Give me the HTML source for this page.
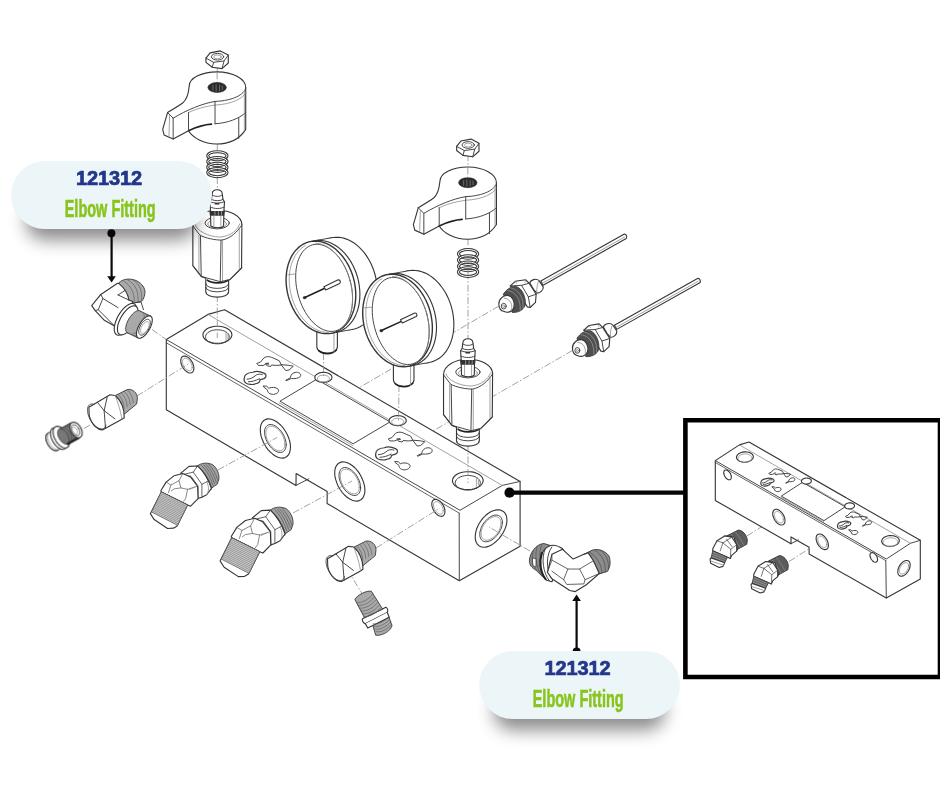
<!DOCTYPE html>
<html><head><meta charset="utf-8"><title>Elbow Fitting 121312</title><style>
html,body{margin:0;padding:0;background:#fff}
body{width:940px;height:788px;position:relative;overflow:hidden;font-family:"Liberation Sans",sans-serif}
svg{position:absolute;left:0;top:0}
svg *{vector-effect:non-scaling-stroke}
.l{fill:#fff;stroke:#363636;stroke-width:1.12;stroke-linejoin:round;stroke-linecap:round}
.n{fill:none;stroke:#3e3e3e;stroke-width:.95;stroke-linejoin:round;stroke-linecap:round}
.k{fill:none;stroke:#222;stroke-width:1.6;stroke-linejoin:round;stroke-linecap:round}
.t{fill:none;stroke:#8a8a8a;stroke-width:0.8;stroke-linecap:round}
.c{fill:none;stroke:#8a8a8a;stroke-width:0.8;stroke-dasharray:7 2 1.5 2}
.w{fill:#fff;stroke:none}
.d{fill:#2a2a2a;stroke:#2a2a2a;stroke-width:0.6}
.g{fill:#a9a9a9;stroke:#3a3a3a;stroke-width:0.9;stroke-linejoin:round}
.h{fill:none;stroke:#555;stroke-width:0.6}
.pill{position:absolute;width:201px;height:68px;border-radius:34px;background:#ecf6f8;box-shadow:0 26px 17px -15px rgba(0,0,0,.46)}
.num{position:absolute;left:-2px;width:100%;top:5.6px;text-align:center;font-weight:bold;font-size:20px;line-height:24px;color:#22378a;letter-spacing:-.1px;-webkit-text-stroke:.7px #22378a}
.nm{position:absolute;left:-1px;width:100%;top:34px;text-align:center;font-weight:bold;font-size:23px;line-height:28px;color:#88c41c;white-space:nowrap;-webkit-text-stroke:.6px #88c41c}
.nm span{display:inline-block;transform:scaleX(.63);transform-origin:50% 50%}
</style></head>
<body>
<svg width="940" height="788" viewBox="0 0 940 788">
<defs><filter id="soft" x="0" y="0" width="940" height="788" filterUnits="userSpaceOnUse"><feGaussianBlur stdDeviation="0.42"/></filter></defs>
<g filter="url(#soft)">
<rect x="685.4" y="420.2" width="254.6" height="256.8" fill="#fff" stroke="#060606" stroke-width="4.6"/>
<path class="c" d="M499,306 L356,389.5"/>
<path class="c" d="M572.4,350.5 L433,431"/>
<path class="c" d="M152,329.5 L166.3,339.5"/>
<path class="l" d="M166.3,339.5 L208.0,314.4 L224.6,309.8 L520.1,481.4 L520.1,546.3 L459.3,580.7 L327.1,503.5 L327.2,491.6 L296.1,473.5 L296.0,485.4 L166.3,409.7 Z" /><path class="n" d="M166.3,339.5 L460.0,510.3 L502.3,485.4 L520.1,481.4" /><path class="n" d="M459.2,513.1 L459.3,580.7" /><path class="n" d="M166.3,342.8 L459.2,513.1" style="stroke-width:.8"/><path class="t" d="M208.0,314.4 L502.3,485.4" /><path class="n" d="M296.0,485.4 L308.8,478.8" /><path class="n" d="M280.3,401.0 L316.6,379.3 L390.0,421.9 L353.5,443.6 Z" /><path class="t" d="M279.3,402.9 L352.6,445.5" /><path class="l" d="M227.7,340.8 L229.3,339.6 L230.6,338.3 L231.4,336.9 L231.9,335.4 L231.8,334.0 L231.4,332.5 L230.5,331.1 L229.2,329.8 L227.6,328.7 L225.7,327.7 L223.5,327.0 L221.1,326.5 L218.6,326.3 L216.1,326.3 L213.6,326.5 L211.2,327.1 L209.0,327.8 L207.1,328.8 L205.5,330.0 L204.2,331.3 L203.4,332.7 L203.0,334.2 L203.0,335.7 L203.4,337.1 L204.3,338.5 L205.6,339.8 L207.2,340.9 L209.1,341.9 L211.3,342.6 L213.7,343.1 L216.2,343.3 L218.7,343.3 L221.2,343.1 L223.6,342.5 L225.8,341.8 L227.7,340.8 Z" /><path class="n" d="M225.8,341.7 L227.2,340.8 L228.2,339.7 L228.9,338.5 L229.3,337.3 L229.2,336.1 L228.9,334.9 L228.2,333.8 L227.1,332.7 L225.8,331.8 L224.2,331.0 L222.4,330.4 L220.4,330.0 L218.4,329.8 L216.3,329.8 L214.3,330.0 L212.3,330.5 L210.5,331.1 L209.0,331.9 L207.6,332.8 L206.6,333.9 L205.9,335.1 L205.6,336.3 L205.6,337.5 L205.9,338.7 L206.6,339.8 L207.7,340.9 L209.0,341.8 L210.6,342.6 L212.4,343.2 L214.4,343.6 L216.4,343.8 L218.5,343.8 L220.5,343.6 L222.5,343.1 L224.3,342.5 L225.8,341.7 Z" /><path class="t" d="M226.0,332.8 L226.0,340.3 M228.0,333.8 L228.0,339.0" /><path class="l" d="M478.6,486.9 L480.3,485.7 L481.7,484.3 L482.6,482.8 L483.1,481.3 L483.1,479.7 L482.6,478.2 L481.7,476.7 L480.4,475.4 L478.7,474.2 L476.6,473.2 L474.3,472.4 L471.8,471.9 L469.2,471.7 L466.5,471.7 L463.9,472.0 L461.3,472.5 L459.0,473.3 L457.0,474.3 L455.3,475.5 L453.9,476.9 L453.0,478.4 L452.5,479.9 L452.5,481.5 L453.0,483.0 L453.9,484.5 L455.2,485.8 L456.9,487.0 L459.0,488.0 L461.3,488.8 L463.8,489.3 L466.4,489.5 L469.1,489.5 L471.7,489.2 L474.3,488.7 L476.6,487.9 L478.6,486.9 Z" /><path class="n" d="M476.7,488.0 L478.1,487.0 L479.2,485.9 L479.9,484.6 L480.3,483.4 L480.3,482.1 L479.9,480.8 L479.2,479.6 L478.1,478.5 L476.7,477.6 L475.0,476.7 L473.1,476.1 L471.1,475.7 L468.9,475.5 L466.7,475.5 L464.6,475.7 L462.5,476.2 L460.6,476.8 L458.9,477.6 L457.5,478.6 L456.4,479.7 L455.7,481.0 L455.3,482.2 L455.3,483.5 L455.7,484.8 L456.4,486.0 L457.5,487.1 L458.9,488.0 L460.6,488.9 L462.5,489.5 L464.5,489.9 L466.7,490.1 L468.9,490.1 L471.0,489.9 L473.1,489.4 L475.0,488.8 L476.7,488.0 Z" /><path class="t" d="M476.4,478.6 L476.4,486.1 M478.4,479.6 L478.4,484.8" /><path class="l" d="M329.5,380.9 L330.4,380.2 L331.2,379.5 L331.7,378.7 L331.9,377.8 L331.9,376.9 L331.7,376.0 L331.1,375.2 L330.4,374.5 L329.4,373.8 L328.3,373.2 L327.0,372.8 L325.6,372.5 L324.1,372.4 L322.6,372.4 L321.2,372.5 L319.8,372.9 L318.5,373.3 L317.3,373.9 L316.4,374.6 L315.6,375.3 L315.1,376.1 L314.9,377.0 L314.9,377.9 L315.1,378.8 L315.7,379.6 L316.4,380.3 L317.4,381.0 L318.5,381.6 L319.8,382.0 L321.2,382.3 L322.7,382.4 L324.2,382.4 L325.6,382.3 L327.0,381.9 L328.3,381.5 L329.5,380.9 Z" /><path class="t" d="M327.6,381.1 L328.3,380.6 L328.8,380.1 L329.2,379.5 L329.4,378.9 L329.4,378.3 L329.2,377.7 L328.8,377.1 L328.3,376.5 L327.6,376.1 L326.8,375.7 L325.9,375.4 L324.9,375.2 L323.9,375.1 L322.9,375.1 L321.8,375.2 L320.9,375.4 L320.0,375.7 L319.2,376.1 L318.5,376.6 L318.0,377.1 L317.6,377.7 L317.4,378.3 L317.4,378.9 L317.6,379.5 L318.0,380.1 L318.5,380.7 L319.2,381.1 L320.0,381.5 L320.9,381.8 L321.9,382.0 L322.9,382.1 L323.9,382.1 L325.0,382.0 L325.9,381.8 L326.8,381.5 L327.6,381.1 Z" /><path class="l" d="M403.8,424.1 L404.7,423.4 L405.5,422.7 L406.0,421.9 L406.2,421.0 L406.2,420.1 L406.0,419.3 L405.5,418.4 L404.7,417.7 L403.8,417.0 L402.6,416.5 L401.3,416.0 L399.9,415.7 L398.4,415.6 L396.9,415.6 L395.5,415.8 L394.1,416.1 L392.8,416.5 L391.6,417.1 L390.7,417.8 L389.9,418.5 L389.4,419.3 L389.2,420.2 L389.2,421.1 L389.4,421.9 L389.9,422.8 L390.7,423.5 L391.6,424.2 L392.8,424.7 L394.1,425.2 L395.5,425.5 L397.0,425.6 L398.5,425.6 L399.9,425.4 L401.3,425.1 L402.6,424.7 L403.8,424.1 Z" /><path class="t" d="M401.9,424.3 L402.6,423.8 L403.1,423.3 L403.5,422.7 L403.7,422.1 L403.7,421.5 L403.5,420.9 L403.1,420.3 L402.6,419.8 L401.9,419.3 L401.1,418.9 L400.2,418.6 L399.2,418.4 L398.2,418.3 L397.2,418.3 L396.1,418.4 L395.2,418.6 L394.3,418.9 L393.5,419.3 L392.8,419.8 L392.3,420.3 L391.9,420.9 L391.7,421.5 L391.7,422.1 L391.9,422.7 L392.3,423.3 L392.8,423.8 L393.5,424.3 L394.3,424.7 L395.2,425.0 L396.2,425.2 L397.2,425.3 L398.2,425.3 L399.3,425.2 L400.2,425.0 L401.1,424.7 L401.9,424.3 Z" /><path class="l" d="M290.5,447.3 L290.2,450.2 L289.5,452.8 L288.4,454.9 L286.9,456.5 L285.0,457.6 L282.9,458.1 L280.5,458.0 L277.9,457.3 L275.3,456.0 L272.7,454.2 L270.1,451.9 L267.8,449.3 L265.6,446.3 L263.8,443.0 L262.3,439.6 L261.1,436.2 L260.5,432.9 L260.3,429.7 L260.5,426.8 L261.2,424.2 L262.3,422.1 L263.8,420.5 L265.7,419.4 L267.9,418.9 L270.3,419.0 L272.8,419.7 L275.4,421.0 L278.1,422.8 L280.6,425.0 L283.0,427.7 L285.1,430.7 L287.0,434.0 L288.5,437.4 L289.6,440.8 L290.3,444.1 L290.5,447.3 Z" /><path class="n" d="M286.2,444.8 L286.0,446.9 L285.5,448.7 L284.7,450.2 L283.6,451.4 L282.3,452.1 L280.7,452.5 L279.0,452.4 L277.2,451.9 L275.3,451.0 L273.4,449.7 L271.6,448.1 L269.9,446.2 L268.4,444.0 L267.1,441.7 L266.0,439.3 L265.2,436.9 L264.7,434.5 L264.6,432.2 L264.7,430.1 L265.2,428.3 L266.0,426.8 L267.1,425.6 L268.5,424.9 L270.0,424.5 L271.7,424.6 L273.5,425.1 L275.4,426.0 L277.3,427.3 L279.1,428.9 L280.8,430.8 L282.3,432.9 L283.7,435.3 L284.7,437.7 L285.5,440.1 L286.0,442.5 L286.2,444.8 Z" /><path class="t" d="M284.9,444.0 L284.7,445.9 L284.3,447.5 L283.6,448.8 L282.6,449.8 L281.4,450.5 L280.1,450.8 L278.6,450.7 L277.0,450.3 L275.3,449.5 L273.7,448.4 L272.1,446.9 L270.6,445.3 L269.2,443.4 L268.1,441.3 L267.1,439.2 L266.4,437.1 L266.0,435.0 L265.9,433.0 L266.0,431.1 L266.5,429.5 L267.2,428.2 L268.1,427.2 L269.3,426.5 L270.7,426.2 L272.2,426.3 L273.8,426.7 L275.4,427.5 L277.1,428.6 L278.7,430.0 L280.2,431.7 L281.5,433.6 L282.7,435.7 L283.6,437.8 L284.3,439.9 L284.7,442.0 L284.9,444.0 Z" /><path class="l" d="M364.9,490.3 L364.7,493.2 L363.9,495.8 L362.8,497.9 L361.3,499.5 L359.4,500.6 L357.2,501.1 L354.9,501.0 L352.3,500.3 L349.7,499.0 L347.1,497.2 L344.5,495.0 L342.1,492.3 L340.0,489.3 L338.1,486.0 L336.7,482.6 L335.6,479.2 L334.9,475.9 L334.7,472.7 L334.9,469.8 L335.6,467.2 L336.8,465.1 L338.3,463.5 L340.2,462.4 L342.3,461.9 L344.7,462.0 L347.3,462.7 L349.9,464.0 L352.5,465.8 L355.1,468.0 L357.4,470.7 L359.6,473.7 L361.4,477.0 L362.9,480.4 L364.0,483.8 L364.7,487.1 L364.9,490.3 Z" /><path class="n" d="M360.6,487.8 L360.4,489.9 L359.9,491.7 L359.1,493.2 L358.0,494.4 L356.7,495.1 L355.1,495.5 L353.4,495.4 L351.6,494.9 L349.7,494.0 L347.8,492.7 L346.0,491.1 L344.3,489.2 L342.8,487.0 L341.5,484.7 L340.4,482.3 L339.6,479.9 L339.1,477.5 L339.0,475.2 L339.2,473.1 L339.7,471.3 L340.5,469.8 L341.6,468.6 L342.9,467.9 L344.5,467.5 L346.2,467.6 L348.0,468.1 L349.9,469.0 L351.7,470.3 L353.6,471.9 L355.3,473.8 L356.8,475.9 L358.1,478.3 L359.2,480.7 L360.0,483.1 L360.4,485.5 L360.6,487.8 Z" /><path class="t" d="M359.3,487.0 L359.1,488.9 L358.7,490.5 L358.0,491.8 L357.0,492.8 L355.8,493.5 L354.5,493.8 L353.0,493.7 L351.4,493.3 L349.7,492.5 L348.1,491.4 L346.5,490.0 L345.0,488.3 L343.6,486.4 L342.5,484.3 L341.5,482.2 L340.8,480.1 L340.4,478.0 L340.3,476.0 L340.4,474.1 L340.9,472.5 L341.6,471.2 L342.6,470.2 L343.7,469.5 L345.1,469.2 L346.6,469.3 L348.2,469.7 L349.9,470.5 L351.5,471.6 L353.1,473.0 L354.6,474.7 L355.9,476.6 L357.1,478.7 L358.1,480.8 L358.7,482.9 L359.2,485.0 L359.3,487.0 Z" /><path class="l" d="M193.9,368.3 L193.8,369.6 L193.5,370.7 L193.0,371.6 L192.3,372.3 L191.5,372.8 L190.6,373.0 L189.6,373.0 L188.5,372.7 L187.3,372.1 L186.2,371.3 L185.1,370.3 L184.0,369.2 L183.1,367.9 L182.3,366.5 L181.6,365.0 L181.1,363.5 L180.9,362.1 L180.8,360.7 L180.9,359.4 L181.2,358.3 L181.6,357.4 L182.3,356.7 L183.1,356.2 L184.0,356.0 L185.1,356.1 L186.2,356.4 L187.3,356.9 L188.5,357.7 L189.6,358.7 L190.6,359.8 L191.5,361.1 L192.4,362.5 L193.0,364.0 L193.5,365.5 L193.8,367.0 L193.9,368.3 Z" /><path class="t" d="M192.2,367.3 L192.1,368.3 L191.9,369.1 L191.5,369.7 L191.0,370.3 L190.4,370.6 L189.7,370.8 L189.0,370.7 L188.2,370.5 L187.3,370.1 L186.5,369.5 L185.7,368.8 L184.9,368.0 L184.2,367.0 L183.6,366.0 L183.1,364.9 L182.8,363.8 L182.6,362.7 L182.5,361.7 L182.6,360.8 L182.8,359.9 L183.1,359.3 L183.6,358.8 L184.2,358.4 L184.9,358.2 L185.7,358.3 L186.5,358.5 L187.3,358.9 L188.2,359.5 L189.0,360.2 L189.7,361.1 L190.4,362.0 L191.0,363.1 L191.5,364.1 L191.9,365.2 L192.1,366.3 L192.2,367.3 Z" /><path class="l" d="M444.9,511.7 L444.8,512.9 L444.5,514.0 L444.0,515.0 L443.4,515.7 L442.5,516.1 L441.6,516.4 L440.6,516.3 L439.5,516.0 L438.3,515.5 L437.2,514.7 L436.1,513.7 L435.0,512.5 L434.1,511.2 L433.3,509.8 L432.7,508.3 L432.2,506.9 L431.9,505.4 L431.8,504.0 L431.9,502.8 L432.2,501.6 L432.7,500.7 L433.4,500.0 L434.2,499.6 L435.2,499.3 L436.2,499.4 L437.3,499.7 L438.4,500.2 L439.6,501.0 L440.7,502.0 L441.7,503.2 L442.7,504.5 L443.5,505.9 L444.1,507.3 L444.6,508.8 L444.9,510.3 L444.9,511.7 Z" /><path class="t" d="M443.2,510.7 L443.1,511.6 L442.9,512.4 L442.5,513.1 L442.1,513.6 L441.4,514.0 L440.8,514.1 L440.0,514.1 L439.2,513.9 L438.3,513.5 L437.5,512.9 L436.7,512.2 L435.9,511.3 L435.2,510.3 L434.6,509.3 L434.2,508.2 L433.8,507.1 L433.6,506.0 L433.5,505.0 L433.6,504.1 L433.8,503.3 L434.2,502.6 L434.7,502.1 L435.3,501.7 L436.0,501.6 L436.8,501.6 L437.6,501.8 L438.4,502.2 L439.3,502.8 L440.1,503.5 L440.8,504.4 L441.5,505.4 L442.1,506.4 L442.6,507.5 L442.9,508.6 L443.2,509.6 L443.2,510.7 Z" /><path class="l" d="M506.9,520.1 L506.7,523.1 L506.0,526.2 L504.8,529.4 L503.2,532.6 L501.2,535.7 L499.0,538.6 L496.4,541.2 L493.8,543.4 L491.0,545.2 L488.2,546.4 L485.6,547.1 L483.1,547.2 L480.8,546.7 L478.9,545.7 L477.3,544.1 L476.1,542.0 L475.4,539.5 L475.2,536.7 L475.5,533.6 L476.2,530.3 L477.4,527.0 L479.0,523.8 L481.0,520.7 L483.2,517.8 L485.8,515.3 L488.4,513.2 L491.2,511.6 L493.9,510.5 L496.6,509.9 L499.1,509.8 L501.3,510.4 L503.3,511.4 L504.8,512.9 L506.0,514.9 L506.7,517.3 L506.9,520.1 Z" /><path class="n" d="M502.4,522.4 L502.2,524.6 L501.7,526.8 L500.9,529.2 L499.7,531.4 L498.3,533.7 L496.7,535.7 L494.9,537.6 L493.0,539.1 L491.0,540.4 L489.1,541.2 L487.1,541.7 L485.4,541.8 L483.7,541.4 L482.4,540.7 L481.2,539.6 L480.4,538.1 L479.9,536.3 L479.8,534.3 L479.9,532.1 L480.5,529.8 L481.3,527.4 L482.5,525.1 L483.9,522.9 L485.5,520.9 L487.3,519.1 L489.2,517.6 L491.1,516.4 L493.1,515.6 L495.0,515.1 L496.8,515.1 L498.4,515.5 L499.8,516.2 L500.9,517.3 L501.7,518.8 L502.3,520.5 L502.4,522.4 Z" /><path class="t" d="M501.1,523.2 L500.9,525.0 L500.4,527.0 L499.7,529.1 L498.7,531.1 L497.5,533.0 L496.0,534.8 L494.5,536.5 L492.8,537.8 L491.0,538.9 L489.3,539.7 L487.6,540.1 L486.0,540.2 L484.6,539.9 L483.4,539.2 L482.4,538.2 L481.7,536.9 L481.3,535.4 L481.1,533.6 L481.3,531.6 L481.7,529.6 L482.5,527.5 L483.5,525.5 L484.7,523.6 L486.2,521.8 L487.7,520.2 L489.4,518.9 L491.1,517.8 L492.9,517.1 L494.5,516.7 L496.1,516.7 L497.5,517.0 L498.7,517.7 L499.7,518.6 L500.5,519.9 L500.9,521.4 L501.1,523.2 Z" /><g transform="translate(235,345) scale(0.08511)" ><path class="n" d="M260,215 L300,200 L340,152 C360,135 400,132 430,145 L520,185 L545,235 L490,240 L430,235 L420,252 L380,246 L362,226 L330,240 L280,240 Z" /><path class="d" d="M350,212 L395,205 L405,228 L365,232 Z" style="fill:#555;stroke:none"/><path class="n" d="M545,235 L595,300 L635,294 L685,250 L640,240 Z" /><path class="n" d="M108,392 C110,350 150,325 210,320 C240,308 300,312 340,330 C372,345 375,375 340,395 L292,410 C295,440 260,452 240,455 C215,470 150,465 128,448 C105,430 104,410 108,392 Z" style="stroke-width:1.2"/><path class="n" d="M140,402 C180,400 215,385 250,352 C275,340 300,340 322,348 M158,432 C200,432 240,420 288,396" /><path class="n" d="M600,412 L650,386 C652,350 680,322 720,320 C760,320 782,345 768,370 C750,392 700,398 662,394 L604,418 Z" /><path class="n" d="M335,482 L372,484 L398,508 C430,492 480,495 505,518 C525,545 500,572 455,580 C410,582 380,560 382,528 L340,496 Z" /></g><g transform="translate(131.5,75.5)"><g transform="translate(235,345) scale(0.08511)" ><path class="n" d="M260,215 L300,200 L340,152 C360,135 400,132 430,145 L520,185 L545,235 L490,240 L430,235 L420,252 L380,246 L362,226 L330,240 L280,240 Z" /><path class="d" d="M350,212 L395,205 L405,228 L365,232 Z" style="fill:#555;stroke:none"/><path class="n" d="M545,235 L595,300 L635,294 L685,250 L640,240 Z" /><path class="n" d="M108,392 C110,350 150,325 210,320 C240,308 300,312 340,330 C372,345 375,375 340,395 L292,410 C295,440 260,452 240,455 C215,470 150,465 128,448 C105,430 104,410 108,392 Z" style="stroke-width:1.2"/><path class="n" d="M140,402 C180,400 215,385 250,352 C275,340 300,340 322,348 M158,432 C200,432 240,420 288,396" /><path class="n" d="M600,412 L650,386 C652,350 680,322 720,320 C760,320 782,345 768,370 C750,392 700,398 662,394 L604,418 Z" /><path class="n" d="M335,482 L372,484 L398,508 C430,492 480,495 505,518 C525,545 500,572 455,580 C410,582 380,560 382,528 L340,496 Z" /></g></g>
<path class="c" d="M217.3,295 L217.3,338"/>
<path class="c" d="M468,444 L468,483"/>
<path class="c" d="M323.5,353 L323.5,378"/>
<path class="c" d="M399,385 L398.5,421"/>
<path class="c" d="M84,428.5 L90,425"/>
<path class="c" d="M137,396 L189,363.5"/>
<path class="c" d="M218,470 L277,437.5"/>
<path class="c" d="M293,513 L352,481"/>
<path class="c" d="M376,548 L440,508"/>
<path class="c" d="M364,597 L349,572"/>
<path class="c" d="M530,551 L489,527"/>
<path class="c" d="M747,536 L780,515"/>
<path class="c" d="M789,561.5 L823,540"/>
<path class="l" d="M715.3,460.6 L739.4,444.9 L749.0,442.0 L920.3,540.3 L920.3,579.0 L886.3,598.0 L809.1,554.0 L809.1,547.3 L791.0,536.9 L791.0,543.7 L715.3,500.5 Z" /><path class="n" d="M715.3,460.6 L886.3,559.0 L910.4,543.3 L920.3,540.3" /><path class="n" d="M885.8,560.6 L886.3,598.0" /><path class="n" d="M715.3,462.5 L885.8,560.6" style="stroke-width:.8"/><path class="t" d="M739.4,444.9 L910.4,543.3" /><path class="n" d="M791.0,543.7 L798.4,539.9" /><path class="n" d="M781.6,495.9 L802.5,482.3 L845.2,506.8 L824.3,520.4 Z" /><path class="t" d="M781.1,497.1 L823.7,521.6" /><path class="l" d="M750.9,460.5 L751.8,459.7 L752.6,458.9 L753.0,458.1 L753.3,457.2 L753.3,456.3 L753.0,455.4 L752.5,454.6 L751.8,453.8 L750.8,453.2 L749.7,452.6 L748.4,452.2 L747.0,452.0 L745.6,451.9 L744.1,451.9 L742.7,452.1 L741.3,452.5 L740.0,453.0 L738.9,453.6 L738.0,454.3 L737.3,455.1 L736.8,456.0 L736.5,456.8 L736.5,457.7 L736.8,458.6 L737.3,459.5 L738.1,460.2 L739.0,460.9 L740.1,461.4 L741.4,461.8 L742.8,462.1 L744.2,462.2 L745.7,462.1 L747.1,461.9 L748.5,461.6 L749.8,461.1 L750.9,460.5 Z" /><path class="t" d="M749.8,461.0 L750.6,460.4 L751.2,459.8 L751.6,459.0 L751.8,458.3 L751.8,457.6 L751.5,456.9 L751.1,456.2 L750.5,455.6 L749.7,455.0 L748.8,454.6 L747.8,454.3 L746.6,454.0 L745.5,453.9 L744.3,454.0 L743.1,454.2 L741.9,454.4 L740.9,454.8 L740.0,455.3 L739.2,455.9 L738.6,456.6 L738.2,457.3 L738.0,458.0 L738.1,458.8 L738.3,459.5 L738.7,460.2 L739.3,460.8 L740.1,461.3 L741.0,461.8 L742.0,462.1 L743.2,462.3 L744.4,462.4 L745.6,462.4 L746.7,462.2 L747.9,461.9 L748.9,461.5 L749.8,461.0 Z" /><path class="l" d="M896.8,544.6 L897.8,543.8 L898.5,543.0 L899.0,542.1 L899.3,541.1 L899.3,540.2 L899.0,539.3 L898.5,538.4 L897.7,537.6 L896.7,536.9 L895.5,536.4 L894.2,535.9 L892.7,535.7 L891.2,535.5 L889.7,535.6 L888.1,535.8 L886.7,536.2 L885.4,536.7 L884.2,537.3 L883.2,538.1 L882.5,538.9 L882.0,539.8 L881.7,540.8 L881.7,541.7 L882.0,542.6 L882.5,543.5 L883.3,544.3 L884.3,545.0 L885.5,545.6 L886.8,546.0 L888.3,546.3 L889.8,546.4 L891.3,546.3 L892.8,546.1 L894.3,545.7 L895.6,545.2 L896.8,544.6 Z" /><path class="t" d="M895.7,545.2 L896.5,544.6 L897.1,543.9 L897.5,543.1 L897.7,542.4 L897.7,541.6 L897.5,540.8 L897.0,540.1 L896.4,539.5 L895.6,538.9 L894.6,538.5 L893.5,538.1 L892.3,537.9 L891.1,537.8 L889.8,537.8 L888.6,538.0 L887.4,538.3 L886.3,538.7 L885.3,539.3 L884.5,539.9 L883.9,540.6 L883.5,541.3 L883.3,542.1 L883.3,542.9 L883.5,543.6 L884.0,544.3 L884.6,545.0 L885.4,545.5 L886.4,546.0 L887.5,546.3 L888.7,546.6 L889.9,546.7 L891.2,546.6 L892.4,546.5 L893.6,546.1 L894.7,545.7 L895.7,545.2 Z" /><path class="l" d="M810.0,483.1 L810.5,482.7 L810.9,482.2 L811.2,481.7 L811.4,481.1 L811.4,480.6 L811.2,480.1 L810.9,479.6 L810.5,479.2 L809.9,478.8 L809.2,478.5 L808.5,478.2 L807.7,478.1 L806.8,478.0 L806.0,478.0 L805.1,478.2 L804.3,478.4 L803.6,478.7 L802.9,479.0 L802.4,479.4 L801.9,479.9 L801.6,480.4 L801.5,480.9 L801.5,481.5 L801.7,482.0 L802.0,482.5 L802.4,482.9 L803.0,483.3 L803.6,483.6 L804.4,483.9 L805.2,484.0 L806.0,484.1 L806.9,484.1 L807.7,483.9 L808.6,483.7 L809.3,483.4 L810.0,483.1 Z" /><path class="l" d="M853.1,507.9 L853.7,507.5 L854.1,507.0 L854.4,506.5 L854.5,506.0 L854.5,505.5 L854.4,505.0 L854.1,504.5 L853.6,504.0 L853.1,503.6 L852.4,503.3 L851.6,503.1 L850.8,502.9 L850.0,502.9 L849.1,502.9 L848.3,503.0 L847.5,503.2 L846.7,503.5 L846.1,503.9 L845.5,504.3 L845.1,504.8 L844.8,505.3 L844.7,505.8 L844.7,506.3 L844.8,506.8 L845.1,507.3 L845.6,507.8 L846.1,508.2 L846.8,508.5 L847.5,508.7 L848.4,508.9 L849.2,508.9 L850.1,508.9 L850.9,508.8 L851.7,508.6 L852.5,508.3 L853.1,507.9 Z" /><path class="l" d="M785.0,520.7 L784.9,521.9 L784.7,522.9 L784.2,523.7 L783.6,524.4 L782.8,524.8 L782.0,525.0 L781.0,525.0 L779.9,524.7 L778.9,524.2 L777.8,523.5 L776.8,522.6 L775.8,521.5 L774.9,520.3 L774.2,519.0 L773.6,517.6 L773.1,516.3 L772.8,514.9 L772.7,513.6 L772.8,512.5 L773.1,511.4 L773.6,510.6 L774.2,509.9 L774.9,509.5 L775.8,509.3 L776.8,509.3 L777.8,509.6 L778.9,510.1 L779.9,510.8 L781.0,511.8 L782.0,512.8 L782.8,514.0 L783.6,515.3 L784.2,516.7 L784.7,518.1 L784.9,519.4 L785.0,520.7 Z" /><path class="t" d="M783.4,519.7 L783.3,520.6 L783.1,521.3 L782.8,522.0 L782.3,522.4 L781.8,522.8 L781.1,522.9 L780.4,522.9 L779.7,522.7 L778.9,522.3 L778.1,521.8 L777.3,521.1 L776.6,520.3 L776.0,519.5 L775.4,518.5 L775.0,517.5 L774.6,516.5 L774.4,515.5 L774.4,514.6 L774.4,513.7 L774.6,513.0 L775.0,512.4 L775.4,511.9 L776.0,511.6 L776.6,511.4 L777.3,511.4 L778.1,511.6 L778.9,512.0 L779.7,512.5 L780.4,513.2 L781.1,514.0 L781.8,514.9 L782.3,515.8 L782.8,516.8 L783.1,517.8 L783.3,518.8 L783.4,519.7 Z" /><path class="l" d="M828.4,545.3 L828.3,546.5 L828.0,547.5 L827.6,548.4 L827.0,549.0 L826.2,549.4 L825.3,549.6 L824.4,549.6 L823.3,549.3 L822.3,548.8 L821.2,548.1 L820.2,547.2 L819.2,546.1 L818.3,544.9 L817.5,543.6 L816.9,542.3 L816.5,540.9 L816.2,539.6 L816.1,538.3 L816.2,537.1 L816.5,536.1 L816.9,535.3 L817.5,534.6 L818.3,534.2 L819.2,534.0 L820.2,534.0 L821.2,534.3 L822.3,534.8 L823.3,535.5 L824.4,536.4 L825.3,537.5 L826.2,538.7 L827.0,540.0 L827.6,541.4 L828.0,542.7 L828.3,544.1 L828.4,545.3 Z" /><path class="t" d="M826.8,544.4 L826.7,545.2 L826.5,546.0 L826.2,546.6 L825.7,547.1 L825.2,547.4 L824.5,547.5 L823.8,547.5 L823.0,547.3 L822.3,546.9 L821.5,546.4 L820.7,545.7 L820.0,545.0 L819.4,544.1 L818.8,543.1 L818.4,542.1 L818.0,541.1 L817.8,540.2 L817.8,539.2 L817.8,538.4 L818.0,537.6 L818.4,537.0 L818.8,536.6 L819.4,536.2 L820.0,536.1 L820.7,536.1 L821.5,536.3 L822.3,536.7 L823.0,537.2 L823.8,537.9 L824.5,538.7 L825.2,539.6 L825.7,540.5 L826.2,541.5 L826.5,542.5 L826.7,543.5 L826.8,544.4 Z" /><path class="l" d="M731.3,477.1 L731.3,477.8 L731.1,478.4 L730.8,479.0 L730.5,479.4 L730.0,479.7 L729.4,479.8 L728.8,479.8 L728.2,479.6 L727.5,479.3 L726.9,478.8 L726.2,478.3 L725.6,477.6 L725.1,476.8 L724.6,476.0 L724.3,475.2 L724.0,474.3 L723.8,473.5 L723.7,472.7 L723.8,472.0 L724.0,471.3 L724.3,470.8 L724.6,470.4 L725.1,470.1 L725.6,470.0 L726.2,470.0 L726.9,470.2 L727.5,470.5 L728.2,471.0 L728.8,471.5 L729.4,472.2 L730.0,472.9 L730.5,473.8 L730.8,474.6 L731.1,475.5 L731.3,476.3 L731.3,477.1 Z" /><path class="l" d="M877.6,559.6 L877.5,560.3 L877.3,560.9 L877.1,561.4 L876.7,561.8 L876.2,562.1 L875.7,562.2 L875.1,562.2 L874.4,562.0 L873.8,561.7 L873.1,561.2 L872.5,560.7 L871.9,560.0 L871.3,559.3 L870.9,558.5 L870.5,557.6 L870.2,556.8 L870.0,556.0 L870.0,555.2 L870.0,554.5 L870.2,553.9 L870.5,553.3 L870.9,552.9 L871.3,552.7 L871.9,552.6 L872.5,552.6 L873.1,552.8 L873.8,553.1 L874.4,553.5 L875.1,554.1 L875.7,554.7 L876.2,555.5 L876.7,556.3 L877.1,557.1 L877.3,558.0 L877.5,558.8 L877.6,559.6 Z" /><path class="l" d="M910.2,564.9 L910.1,566.1 L909.8,567.5 L909.4,568.9 L908.7,570.2 L908.0,571.5 L907.1,572.7 L906.1,573.8 L905.1,574.7 L904.0,575.4 L902.9,575.9 L901.9,576.1 L900.9,576.2 L900.0,575.9 L899.2,575.5 L898.6,574.8 L898.1,574.0 L897.9,572.9 L897.8,571.8 L897.9,570.5 L898.1,569.1 L898.6,567.8 L899.2,566.4 L900.0,565.1 L900.9,563.9 L901.9,562.8 L902.9,561.9 L904.0,561.2 L905.1,560.8 L906.1,560.5 L907.1,560.5 L908.0,560.7 L908.7,561.1 L909.4,561.8 L909.8,562.7 L910.1,563.7 L910.2,564.9 Z" /><path class="t" d="M908.5,565.8 L908.5,566.7 L908.3,567.7 L907.9,568.7 L907.5,569.7 L906.9,570.6 L906.3,571.5 L905.5,572.3 L904.8,573.0 L904.0,573.5 L903.2,573.8 L902.4,574.0 L901.7,574.1 L901.1,573.9 L900.5,573.6 L900.0,573.1 L899.7,572.5 L899.5,571.7 L899.4,570.8 L899.5,569.9 L899.7,568.9 L900.0,567.9 L900.5,566.9 L901.1,566.0 L901.7,565.1 L902.4,564.3 L903.2,563.7 L904.0,563.1 L904.8,562.8 L905.5,562.6 L906.3,562.6 L906.9,562.7 L907.5,563.1 L907.9,563.5 L908.3,564.2 L908.5,564.9 L908.5,565.8 Z" /><g transform="matrix(0.6003,-0.0198,-0.02975,0.6041,625.57,258.80)"><g transform="translate(235,345) scale(0.08511)" ><path class="n" d="M260,215 L300,200 L340,152 C360,135 400,132 430,145 L520,185 L545,235 L490,240 L430,235 L420,252 L380,246 L362,226 L330,240 L280,240 Z" /><path class="d" d="M350,212 L395,205 L405,228 L365,232 Z" style="fill:#555;stroke:none"/><path class="n" d="M545,235 L595,300 L635,294 L685,250 L640,240 Z" /><path class="n" d="M108,392 C110,350 150,325 210,320 C240,308 300,312 340,330 C372,345 375,375 340,395 L292,410 C295,440 260,452 240,455 C215,470 150,465 128,448 C105,430 104,410 108,392 Z" style="stroke-width:1.2"/><path class="n" d="M140,402 C180,400 215,385 250,352 C275,340 300,340 322,348 M158,432 C200,432 240,420 288,396" /><path class="n" d="M600,412 L650,386 C652,350 680,322 720,320 C760,320 782,345 768,370 C750,392 700,398 662,394 L604,418 Z" /><path class="n" d="M335,482 L372,484 L398,508 C430,492 480,495 505,518 C525,545 500,572 455,580 C410,582 380,560 382,528 L340,496 Z" /></g><g transform="translate(131.5,75.5)"><g transform="translate(235,345) scale(0.08511)" ><path class="n" d="M260,215 L300,200 L340,152 C360,135 400,132 430,145 L520,185 L545,235 L490,240 L430,235 L420,252 L380,246 L362,226 L330,240 L280,240 Z" /><path class="d" d="M350,212 L395,205 L405,228 L365,232 Z" style="fill:#555;stroke:none"/><path class="n" d="M545,235 L595,300 L635,294 L685,250 L640,240 Z" /><path class="n" d="M108,392 C110,350 150,325 210,320 C240,308 300,312 340,330 C372,345 375,375 340,395 L292,410 C295,440 260,452 240,455 C215,470 150,465 128,448 C105,430 104,410 108,392 Z" style="stroke-width:1.2"/><path class="n" d="M140,402 C180,400 215,385 250,352 C275,340 300,340 322,348 M158,432 C200,432 240,420 288,396" /><path class="n" d="M600,412 L650,386 C652,350 680,322 720,320 C760,320 782,345 768,370 C750,392 700,398 662,394 L604,418 Z" /><path class="n" d="M335,482 L372,484 L398,508 C430,492 480,495 505,518 C525,545 500,572 455,580 C410,582 380,560 382,528 L340,496 Z" /></g></g></g>
<g transform="translate(270,220) scale(0.22841)" ><path class="l" d="M205,470 L205,555 C205,592 295,592 295,555 L295,470 Z" /><path class="k" d="M213,572 C235,590 270,590 290,570" /><path class="t" d="M280,500 L280,580" /><path class="l" d="M460.0,239.7 L464.1,257.2 L467.0,274.8 L468.9,292.5 L469.6,310.1 L469.1,327.4 L467.5,344.3 L464.7,360.8 L460.8,376.6 L455.8,391.6 L449.7,405.8 L442.7,419.0 L434.7,431.2 L425.7,442.1 L416.0,451.9 L405.5,460.3 L394.3,467.3 L382.6,472.9 L370.3,477.0 L357.7,479.6 L344.7,480.6 L331.5,480.1 L318.2,478.1 L304.9,474.5 L291.7,469.5 L278.7,463.0 L266.0,455.1 L253.6,445.8 L241.8,435.2 L230.5,423.5 L219.9,410.7 L210.0,396.8 L200.9,382.1 L192.7,366.5 L185.5,350.3 L179.2,333.5 L174.0,316.3 L169.9,298.8 L167.0,281.2 L165.1,263.5 L164.4,245.9 L164.9,228.6 L166.5,211.7 L169.3,195.2 L173.2,179.4 L178.2,164.4 L184.3,150.2 L191.3,137.0 L199.3,124.8 L208.3,113.9 L218.0,104.1 L228.5,95.7 L239.7,88.7 L251.4,83.1 L263.7,79.0 L276.3,76.4 L289.3,75.4 L302.5,75.9 L315.8,77.9 L329.1,81.5 L342.3,86.5 L355.3,93.0 L368.0,100.9 L380.4,110.2 L392.2,120.8 L403.5,132.5 L414.1,145.3 L424.0,159.2 L433.1,173.9 L441.3,189.5 L448.5,205.7 L454.8,222.5 L460.0,239.7 Z" /><path class="w" d="M268.8,495.7 L362.8,478.7 L271.2,77.3 L177.2,94.3 Z" /><path class="n" d="M268.8,495.7 L362.8,478.7" /><path class="n" d="M177.2,94.3 L271.2,77.3" /><path class="l" d="M384.0,253.7 L388.1,271.2 L391.0,288.8 L392.9,306.5 L393.6,324.1 L393.1,341.4 L391.5,358.3 L388.7,374.8 L384.8,390.6 L379.8,405.6 L373.7,419.8 L366.7,433.0 L358.7,445.2 L349.7,456.1 L340.0,465.9 L329.5,474.3 L318.3,481.3 L306.6,486.9 L294.3,491.0 L281.7,493.6 L268.7,494.6 L255.5,494.1 L242.2,492.1 L228.9,488.5 L215.7,483.5 L202.7,477.0 L190.0,469.1 L177.6,459.8 L165.8,449.2 L154.5,437.5 L143.9,424.7 L134.0,410.8 L124.9,396.1 L116.7,380.5 L109.5,364.3 L103.2,347.5 L98.0,330.3 L93.9,312.8 L91.0,295.2 L89.1,277.5 L88.4,259.9 L88.9,242.6 L90.5,225.7 L93.3,209.2 L97.2,193.4 L102.2,178.4 L108.3,164.2 L115.3,151.0 L123.3,138.8 L132.3,127.9 L142.0,118.1 L152.5,109.7 L163.7,102.7 L175.4,97.1 L187.7,93.0 L200.3,90.4 L213.3,89.4 L226.5,89.9 L239.8,91.9 L253.1,95.5 L266.3,100.5 L279.3,107.0 L292.0,114.9 L304.4,124.2 L316.2,134.8 L327.5,146.5 L338.1,159.3 L348.0,173.2 L357.1,187.9 L365.3,203.5 L372.5,219.7 L378.8,236.5 L384.0,253.7 Z" /><path class="l" d="M366.0,256.7 L370.1,274.2 L373.0,291.8 L374.9,309.5 L375.6,327.1 L375.1,344.4 L373.5,361.3 L370.7,377.8 L366.8,393.6 L361.8,408.6 L355.7,422.8 L348.7,436.0 L340.7,448.2 L331.7,459.1 L322.0,468.9 L311.5,477.3 L300.3,484.3 L288.6,489.9 L276.3,494.0 L263.7,496.6 L250.7,497.6 L237.5,497.1 L224.2,495.1 L210.9,491.5 L197.7,486.5 L184.7,480.0 L172.0,472.1 L159.6,462.8 L147.8,452.2 L136.5,440.5 L125.9,427.7 L116.0,413.8 L106.9,399.1 L98.7,383.5 L91.5,367.3 L85.2,350.5 L80.0,333.3 L75.9,315.8 L73.0,298.2 L71.1,280.5 L70.4,262.9 L70.9,245.6 L72.5,228.7 L75.3,212.2 L79.2,196.4 L84.2,181.4 L90.3,167.2 L97.3,154.0 L105.3,141.8 L114.3,130.9 L124.0,121.1 L134.5,112.7 L145.7,105.7 L157.4,100.1 L169.7,96.0 L182.3,93.4 L195.3,92.4 L208.5,92.9 L221.8,94.9 L235.1,98.5 L248.3,103.5 L261.3,110.0 L274.0,117.9 L286.4,127.2 L298.2,137.8 L309.5,149.5 L320.1,162.3 L330.0,176.2 L339.1,190.9 L347.3,206.5 L354.5,222.7 L360.8,239.5 L366.0,256.7 Z" style="stroke-width:1.4"/><path class="t" d="M256.5,492.5 L246.5,492.2 L236.4,490.9 L226.3,488.7 L216.2,485.5 L206.2,481.4 L196.3,476.4 L186.5,470.5 L177.0,463.8 L167.7,456.3 L158.7,447.9 L150.0,438.9 L141.7,429.1 L133.9,418.7 L126.5,407.7 L119.6,396.1 L113.3,384.1 L107.5,371.6 L102.3,358.8 L97.7,345.6 L93.8,332.2 L90.5,318.7 L87.9,305.0 L86.0,291.3 L84.7,277.6 L84.2,264.0 L84.4,250.5 L85.3,237.3 L86.9,224.4 L89.2,211.8 L92.1,199.6 L95.8,187.9 L100.0,176.7 L105.0,166.1 L110.5,156.1 L116.6,146.8 L123.2,138.3 L130.3,130.5 L138.0,123.5 L146.1,117.3 L154.5,112.0" /><path class="n" d="M351.0,266.5 L354.9,283.0 L358.0,299.6 L360.2,316.2 L361.4,332.7 L361.6,348.9 L360.9,364.7 L359.3,380.0 L356.8,394.7 L353.3,408.6 L348.9,421.7 L343.7,433.8 L337.7,444.9 L330.9,454.8 L323.4,463.6 L315.2,471.0 L306.5,477.2 L297.2,482.0 L287.5,485.4 L277.3,487.3 L266.9,487.8 L256.2,486.8 L245.4,484.4 L234.6,480.6 L223.7,475.4 L213.0,468.8 L202.4,460.9 L192.1,451.8 L182.1,441.5 L172.6,430.1 L163.5,417.6 L155.0,404.3 L147.2,390.1 L140.0,375.3 L133.5,359.8 L127.9,343.8 L123.0,327.5 L119.1,311.0 L116.0,294.4 L113.8,277.8 L112.6,261.3 L112.4,245.1 L113.1,229.3 L114.7,214.0 L117.2,199.3 L120.7,185.4 L125.1,172.3 L130.3,160.2 L136.3,149.1 L143.1,139.2 L150.6,130.4 L158.8,123.0 L167.5,116.8 L176.8,112.0 L186.5,108.6 L196.7,106.7 L207.1,106.2 L217.7,107.2 L228.6,109.6 L239.4,113.4 L250.3,118.6 L261.0,125.2 L271.6,133.1 L281.9,142.2 L291.9,152.5 L301.4,163.9 L310.5,176.4 L319.0,189.7 L326.8,203.9 L334.0,218.8 L340.5,234.2 L346.1,250.2 L351.0,266.5 Z" /><path class="t" d="M201.1,102.1 L210.0,102.7 L219.0,104.3 L228.1,106.8 L237.2,110.2 L246.3,114.5 L255.3,119.7 L264.2,125.8 L272.9,132.7 L281.4,140.4 L289.6,148.9 L297.6,158.1 L305.3,167.9 L312.6,178.4 L319.5,189.5 L325.9,201.1 L331.9,213.2 L337.4,225.6 L342.4,238.5 L346.9,251.6 L350.8,264.9 L354.1,278.4 L356.8,292.0 L358.9,305.6 L360.3,319.1 L361.2,332.6 L361.4,345.9 L360.9,358.9 L359.9,371.6 L358.2,384.0 L355.9,396.0 L352.9,407.4 L349.4,418.4 L345.3,428.7 L340.7,438.4 L335.5,447.4 L329.8,455.7 L323.6,463.2 L317.0,469.9 L310.0,475.7 L302.5,480.7" /><path class="t" d="M78,240 L112,236" /><path class="k" d="M150,340 L240,299" /><path class="l" d="M236,292 L296,263 C306,260 312,270 305,278 L244,306 Z" /><ellipse class="d" cx="152" cy="340" rx="7" ry="5" /></g><g transform="translate(76.6,33.1)"><g transform="translate(270,220) scale(0.22841)" ><path class="l" d="M205,470 L205,555 C205,592 295,592 295,555 L295,470 Z" /><path class="k" d="M213,572 C235,590 270,590 290,570" /><path class="t" d="M280,500 L280,580" /><path class="l" d="M460.0,239.7 L464.1,257.2 L467.0,274.8 L468.9,292.5 L469.6,310.1 L469.1,327.4 L467.5,344.3 L464.7,360.8 L460.8,376.6 L455.8,391.6 L449.7,405.8 L442.7,419.0 L434.7,431.2 L425.7,442.1 L416.0,451.9 L405.5,460.3 L394.3,467.3 L382.6,472.9 L370.3,477.0 L357.7,479.6 L344.7,480.6 L331.5,480.1 L318.2,478.1 L304.9,474.5 L291.7,469.5 L278.7,463.0 L266.0,455.1 L253.6,445.8 L241.8,435.2 L230.5,423.5 L219.9,410.7 L210.0,396.8 L200.9,382.1 L192.7,366.5 L185.5,350.3 L179.2,333.5 L174.0,316.3 L169.9,298.8 L167.0,281.2 L165.1,263.5 L164.4,245.9 L164.9,228.6 L166.5,211.7 L169.3,195.2 L173.2,179.4 L178.2,164.4 L184.3,150.2 L191.3,137.0 L199.3,124.8 L208.3,113.9 L218.0,104.1 L228.5,95.7 L239.7,88.7 L251.4,83.1 L263.7,79.0 L276.3,76.4 L289.3,75.4 L302.5,75.9 L315.8,77.9 L329.1,81.5 L342.3,86.5 L355.3,93.0 L368.0,100.9 L380.4,110.2 L392.2,120.8 L403.5,132.5 L414.1,145.3 L424.0,159.2 L433.1,173.9 L441.3,189.5 L448.5,205.7 L454.8,222.5 L460.0,239.7 Z" /><path class="w" d="M268.8,495.7 L362.8,478.7 L271.2,77.3 L177.2,94.3 Z" /><path class="n" d="M268.8,495.7 L362.8,478.7" /><path class="n" d="M177.2,94.3 L271.2,77.3" /><path class="l" d="M384.0,253.7 L388.1,271.2 L391.0,288.8 L392.9,306.5 L393.6,324.1 L393.1,341.4 L391.5,358.3 L388.7,374.8 L384.8,390.6 L379.8,405.6 L373.7,419.8 L366.7,433.0 L358.7,445.2 L349.7,456.1 L340.0,465.9 L329.5,474.3 L318.3,481.3 L306.6,486.9 L294.3,491.0 L281.7,493.6 L268.7,494.6 L255.5,494.1 L242.2,492.1 L228.9,488.5 L215.7,483.5 L202.7,477.0 L190.0,469.1 L177.6,459.8 L165.8,449.2 L154.5,437.5 L143.9,424.7 L134.0,410.8 L124.9,396.1 L116.7,380.5 L109.5,364.3 L103.2,347.5 L98.0,330.3 L93.9,312.8 L91.0,295.2 L89.1,277.5 L88.4,259.9 L88.9,242.6 L90.5,225.7 L93.3,209.2 L97.2,193.4 L102.2,178.4 L108.3,164.2 L115.3,151.0 L123.3,138.8 L132.3,127.9 L142.0,118.1 L152.5,109.7 L163.7,102.7 L175.4,97.1 L187.7,93.0 L200.3,90.4 L213.3,89.4 L226.5,89.9 L239.8,91.9 L253.1,95.5 L266.3,100.5 L279.3,107.0 L292.0,114.9 L304.4,124.2 L316.2,134.8 L327.5,146.5 L338.1,159.3 L348.0,173.2 L357.1,187.9 L365.3,203.5 L372.5,219.7 L378.8,236.5 L384.0,253.7 Z" /><path class="l" d="M366.0,256.7 L370.1,274.2 L373.0,291.8 L374.9,309.5 L375.6,327.1 L375.1,344.4 L373.5,361.3 L370.7,377.8 L366.8,393.6 L361.8,408.6 L355.7,422.8 L348.7,436.0 L340.7,448.2 L331.7,459.1 L322.0,468.9 L311.5,477.3 L300.3,484.3 L288.6,489.9 L276.3,494.0 L263.7,496.6 L250.7,497.6 L237.5,497.1 L224.2,495.1 L210.9,491.5 L197.7,486.5 L184.7,480.0 L172.0,472.1 L159.6,462.8 L147.8,452.2 L136.5,440.5 L125.9,427.7 L116.0,413.8 L106.9,399.1 L98.7,383.5 L91.5,367.3 L85.2,350.5 L80.0,333.3 L75.9,315.8 L73.0,298.2 L71.1,280.5 L70.4,262.9 L70.9,245.6 L72.5,228.7 L75.3,212.2 L79.2,196.4 L84.2,181.4 L90.3,167.2 L97.3,154.0 L105.3,141.8 L114.3,130.9 L124.0,121.1 L134.5,112.7 L145.7,105.7 L157.4,100.1 L169.7,96.0 L182.3,93.4 L195.3,92.4 L208.5,92.9 L221.8,94.9 L235.1,98.5 L248.3,103.5 L261.3,110.0 L274.0,117.9 L286.4,127.2 L298.2,137.8 L309.5,149.5 L320.1,162.3 L330.0,176.2 L339.1,190.9 L347.3,206.5 L354.5,222.7 L360.8,239.5 L366.0,256.7 Z" style="stroke-width:1.4"/><path class="t" d="M256.5,492.5 L246.5,492.2 L236.4,490.9 L226.3,488.7 L216.2,485.5 L206.2,481.4 L196.3,476.4 L186.5,470.5 L177.0,463.8 L167.7,456.3 L158.7,447.9 L150.0,438.9 L141.7,429.1 L133.9,418.7 L126.5,407.7 L119.6,396.1 L113.3,384.1 L107.5,371.6 L102.3,358.8 L97.7,345.6 L93.8,332.2 L90.5,318.7 L87.9,305.0 L86.0,291.3 L84.7,277.6 L84.2,264.0 L84.4,250.5 L85.3,237.3 L86.9,224.4 L89.2,211.8 L92.1,199.6 L95.8,187.9 L100.0,176.7 L105.0,166.1 L110.5,156.1 L116.6,146.8 L123.2,138.3 L130.3,130.5 L138.0,123.5 L146.1,117.3 L154.5,112.0" /><path class="n" d="M351.0,266.5 L354.9,283.0 L358.0,299.6 L360.2,316.2 L361.4,332.7 L361.6,348.9 L360.9,364.7 L359.3,380.0 L356.8,394.7 L353.3,408.6 L348.9,421.7 L343.7,433.8 L337.7,444.9 L330.9,454.8 L323.4,463.6 L315.2,471.0 L306.5,477.2 L297.2,482.0 L287.5,485.4 L277.3,487.3 L266.9,487.8 L256.2,486.8 L245.4,484.4 L234.6,480.6 L223.7,475.4 L213.0,468.8 L202.4,460.9 L192.1,451.8 L182.1,441.5 L172.6,430.1 L163.5,417.6 L155.0,404.3 L147.2,390.1 L140.0,375.3 L133.5,359.8 L127.9,343.8 L123.0,327.5 L119.1,311.0 L116.0,294.4 L113.8,277.8 L112.6,261.3 L112.4,245.1 L113.1,229.3 L114.7,214.0 L117.2,199.3 L120.7,185.4 L125.1,172.3 L130.3,160.2 L136.3,149.1 L143.1,139.2 L150.6,130.4 L158.8,123.0 L167.5,116.8 L176.8,112.0 L186.5,108.6 L196.7,106.7 L207.1,106.2 L217.7,107.2 L228.6,109.6 L239.4,113.4 L250.3,118.6 L261.0,125.2 L271.6,133.1 L281.9,142.2 L291.9,152.5 L301.4,163.9 L310.5,176.4 L319.0,189.7 L326.8,203.9 L334.0,218.8 L340.5,234.2 L346.1,250.2 L351.0,266.5 Z" /><path class="t" d="M201.1,102.1 L210.0,102.7 L219.0,104.3 L228.1,106.8 L237.2,110.2 L246.3,114.5 L255.3,119.7 L264.2,125.8 L272.9,132.7 L281.4,140.4 L289.6,148.9 L297.6,158.1 L305.3,167.9 L312.6,178.4 L319.5,189.5 L325.9,201.1 L331.9,213.2 L337.4,225.6 L342.4,238.5 L346.9,251.6 L350.8,264.9 L354.1,278.4 L356.8,292.0 L358.9,305.6 L360.3,319.1 L361.2,332.6 L361.4,345.9 L360.9,358.9 L359.9,371.6 L358.2,384.0 L355.9,396.0 L352.9,407.4 L349.4,418.4 L345.3,428.7 L340.7,438.4 L335.5,447.4 L329.8,455.7 L323.6,463.2 L317.0,469.9 L310.0,475.7 L302.5,480.7" /><path class="t" d="M78,240 L112,236" /><path class="k" d="M150,340 L240,299" /><path class="l" d="M236,292 L296,263 C306,260 312,270 305,278 L244,306 Z" /><ellipse class="d" cx="152" cy="340" rx="7" ry="5" /></g></g>
<g transform="translate(80,265) scale(0.10152)" ><path class="g" d="M375,185 C400,150 450,135 500,140 C570,145 635,200 640,260 C640,310 620,350 600,362 L540,372 L470,345 Z" /><path class="h" d="M430,160 C500,200 540,280 535,365 M470,148 C540,180 580,260 572,362 M520,145 C590,190 615,260 605,350" /><path class="l" d="M115,400 L205,290 L370,180 L385,183 C440,230 475,290 480,345 L520,360 L430,640 L340,600 L240,545 L150,450 Z" /><path class="n" d="M205,290 L225,330 L180,440 L150,450 M225,330 L375,420 M180,440 L330,590" /><path class="n" d="M375,295 L445,250 M375,295 L480,345" /><path class="l" d="M516.2,574.4 L504.2,593.8 L491.2,612.3 L477.5,629.4 L463.3,644.9 L448.8,658.5 L434.4,670.0 L420.1,679.2 L406.3,685.9 L393.3,690.1 L381.1,691.6 L370.2,690.4 L360.5,686.6 L352.3,680.1 L345.8,671.2 L341.1,659.9 L338.1,646.6 L337.1,631.3 L337.9,614.3 L340.6,596.0 L345.2,576.7 L351.5,556.6 L359.5,536.2 L369.0,515.7 L379.8,495.6 L391.8,476.2 L404.8,457.7 L418.5,440.6 L432.7,425.1 L447.2,411.5 L461.6,400.0 L475.9,390.8 L489.7,384.1 L502.7,379.9 L514.9,378.4 L525.8,379.6 L535.5,383.4 L543.7,389.9 L550.2,398.8 L554.9,410.1 L557.9,423.4 L558.9,438.7 L558.1,455.7 L555.4,474.0 L550.8,493.3 L544.5,513.4 L536.5,533.8 L527.0,554.3 L516.2,574.4 Z" /><path class="l" d="M532.4,581.0 L521.4,598.8 L509.5,615.6 L497.0,631.3 L484.0,645.5 L470.8,657.9 L457.5,668.4 L444.5,676.8 L431.9,683.0 L420.0,686.8 L408.9,688.2 L398.8,687.1 L390.0,683.6 L382.5,677.7 L376.6,669.5 L372.2,659.2 L369.5,647.0 L368.6,633.0 L369.3,617.5 L371.8,600.8 L376.0,583.1 L381.8,564.8 L389.1,546.1 L397.7,527.4 L407.6,509.0 L418.6,491.2 L430.5,474.4 L443.0,458.7 L456.0,444.5 L469.2,432.1 L482.5,421.6 L495.5,413.2 L508.1,407.0 L520.0,403.2 L531.1,401.8 L541.2,402.9 L550.0,406.4 L557.5,412.3 L563.4,420.5 L567.8,430.8 L570.5,443.0 L571.4,457.0 L570.7,472.5 L568.2,489.2 L564.0,506.9 L558.2,525.2 L550.9,543.9 L542.3,562.6 L532.4,581.0 Z" /><path class="n" d="M540,372 L600,362 L625,440" /><path class="g" d="M575.3,587.3 L566.8,601.1 L557.6,614.1 L547.9,626.3 L537.9,637.3 L527.7,647.0 L517.6,655.2 L507.6,661.8 L497.9,666.6 L488.8,669.7 L480.3,670.8 L472.7,670.0 L466.0,667.4 L460.4,662.9 L455.9,656.7 L452.6,648.8 L450.7,639.4 L450.0,628.6 L450.7,616.6 L452.8,603.7 L456.1,590.1 L460.6,575.9 L466.3,561.4 L473.1,547.0 L480.7,532.7 L489.2,518.9 L498.4,505.9 L508.1,493.7 L518.1,482.7 L528.3,473.0 L538.4,464.8 L548.4,458.2 L558.1,453.4 L567.2,450.3 L575.7,449.2 L583.3,450.0 L590.0,452.6 L595.6,457.1 L600.1,463.3 L603.4,471.2 L605.3,480.6 L606.0,491.4 L605.3,503.4 L603.2,516.3 L599.9,529.9 L595.4,544.1 L589.7,558.6 L582.9,573.0 L575.3,587.3 Z" /><path class="g" d="M590.0,452.6 L696.0,503.6 L572.0,718.4 L466.0,667.4 Z" style="stroke:none"/><path class="n" d="M590.0,452.6 L696.0,503.6" /><path class="n" d="M466.0,667.4 L572.0,718.4" /><path class="h" d="M616.5,465.4 L619.5,467.4 L622.1,469.8 L624.5,472.7 L626.6,476.1 L628.4,479.8 L629.9,484.0 L631.0,488.5 L631.8,493.4 L632.3,498.6 L632.5,504.2 L632.3,510.0 L631.8,516.1 L630.9,522.5 L629.7,529.0 L628.2,535.8 L626.4,542.7 L624.3,549.7 L621.9,556.9 L619.2,564.1 L616.2,571.3 L612.9,578.6 L609.4,585.8 L605.7,592.9 L601.8,600.0 L597.6,607.0 L593.3,613.8 L588.7,620.5 L584.1,626.9 L579.3,633.1 L574.4,639.0 L569.5,644.7 L564.4,650.1 L559.3,655.1 L554.2,659.8 L549.1,664.1 L544.1,668.0 L539.0,671.5 L534.1,674.6 L529.2,677.2 L524.4,679.4 L519.8,681.1 L515.3,682.4 L511.0,683.2 L506.8,683.5 L502.9,683.4 L499.2,682.8 L495.7,681.7 L492.5,680.1" /><path class="h" d="M643.0,478.1 L646.0,480.1 L648.6,482.6 L651.0,485.5 L653.1,488.8 L654.9,492.6 L656.4,496.7 L657.5,501.3 L658.3,506.1 L658.8,511.4 L659.0,516.9 L658.8,522.7 L658.3,528.9 L657.4,535.2 L656.2,541.8 L654.7,548.5 L652.9,555.4 L650.8,562.5 L648.4,569.6 L645.7,576.8 L642.7,584.1 L639.4,591.3 L635.9,598.5 L632.2,605.7 L628.3,612.8 L624.1,619.7 L619.8,626.6 L615.2,633.2 L610.6,639.6 L605.8,645.9 L600.9,651.8 L596.0,657.5 L590.9,662.8 L585.8,667.8 L580.7,672.5 L575.6,676.8 L570.6,680.7 L565.5,684.2 L560.6,687.3 L555.7,689.9 L550.9,692.1 L546.3,693.9 L541.8,695.2 L537.5,696.0 L533.3,696.3 L529.4,696.1 L525.7,695.5 L522.2,694.4 L519.0,692.9" /><path class="h" d="M669.5,490.9 L672.5,492.9 L675.1,495.3 L677.5,498.2 L679.6,501.6 L681.4,505.3 L682.9,509.5 L684.0,514.0 L684.8,518.9 L685.3,524.1 L685.5,529.7 L685.3,535.5 L684.8,541.6 L683.9,548.0 L682.7,554.5 L681.2,561.3 L679.4,568.2 L677.3,575.2 L674.9,582.4 L672.2,589.6 L669.2,596.8 L665.9,604.1 L662.4,611.3 L658.7,618.4 L654.8,625.5 L650.6,632.5 L646.3,639.3 L641.7,646.0 L637.1,652.4 L632.3,658.6 L627.4,664.5 L622.5,670.2 L617.4,675.6 L612.3,680.6 L607.2,685.3 L602.1,689.6 L597.1,693.5 L592.0,697.0 L587.1,700.1 L582.2,702.7 L577.4,704.9 L572.8,706.6 L568.3,707.9 L564.0,708.7 L559.8,709.0 L555.9,708.9 L552.2,708.3 L548.7,707.2 L545.5,705.6" /><path class="l" d="M681.3,638.3 L672.8,652.1 L663.6,665.1 L653.9,677.3 L643.9,688.3 L633.7,698.0 L623.6,706.2 L613.6,712.8 L603.9,717.6 L594.8,720.7 L586.3,721.8 L578.7,721.0 L572.0,718.4 L566.4,713.9 L561.9,707.7 L558.6,699.8 L556.7,690.4 L556.0,679.6 L556.7,667.6 L558.8,654.7 L562.1,641.1 L566.6,626.9 L572.3,612.4 L579.1,598.0 L586.7,583.7 L595.2,569.9 L604.4,556.9 L614.1,544.7 L624.1,533.7 L634.3,524.0 L644.4,515.8 L654.4,509.2 L664.1,504.4 L673.2,501.3 L681.7,500.2 L689.3,501.0 L696.0,503.6 L701.6,508.1 L706.1,514.3 L709.4,522.2 L711.3,531.6 L712.0,542.4 L711.3,554.4 L709.2,567.3 L705.9,580.9 L701.4,595.1 L695.7,609.6 L688.9,624.0 L681.3,638.3 Z" /><path class="n" d="M673.6,634.7 L667.6,644.3 L661.1,653.4 L654.1,661.8 L646.8,669.4 L639.4,676.0 L631.9,681.5 L624.4,685.8 L617.2,689.0 L610.3,690.8 L603.8,691.2 L597.9,690.4 L592.6,688.2 L588.1,684.7 L584.4,680.0 L581.5,674.1 L579.6,667.2 L578.7,659.4 L578.7,650.8 L579.8,641.5 L581.8,631.8 L584.7,621.7 L588.5,611.5 L593.1,601.3 L598.4,591.3 L604.4,581.7 L610.9,572.6 L617.9,564.2 L625.2,556.6 L632.6,550.0 L640.1,544.5 L647.6,540.2 L654.8,537.0 L661.7,535.2 L668.2,534.8 L674.1,535.6 L679.4,537.8 L683.9,541.3 L687.6,546.0 L690.5,551.9 L692.4,558.8 L693.3,566.6 L693.3,575.2 L692.2,584.5 L690.2,594.2 L687.3,604.3 L683.5,614.5 L678.9,624.7 L673.6,634.7 Z" /><path class="t" d="M666.9,632.1 L662.5,639.3 L657.6,646.0 L652.5,652.3 L647.1,657.9 L641.5,662.8 L635.9,666.9 L630.4,670.1 L625.0,672.4 L619.9,673.8 L615.1,674.1 L610.7,673.5 L606.8,671.8 L603.4,669.3 L600.6,665.8 L598.5,661.4 L597.1,656.3 L596.4,650.5 L596.5,644.1 L597.2,637.2 L598.7,630.0 L600.9,622.5 L603.7,614.9 L607.1,607.3 L611.1,599.9 L615.5,592.7 L620.4,586.0 L625.5,579.7 L630.9,574.1 L636.5,569.2 L642.1,565.1 L647.6,561.9 L653.0,559.6 L658.1,558.2 L662.9,557.9 L667.3,558.5 L671.2,560.2 L674.6,562.7 L677.4,566.2 L679.5,570.6 L680.9,575.7 L681.6,581.5 L681.5,587.9 L680.8,594.8 L679.3,602.0 L677.1,609.5 L674.3,617.1 L670.9,624.7 L666.9,632.1 Z" /></g>
<g transform="translate(40,380) scale(0.11703)" ><path class="g" d="M640,135 L745,82 C790,72 835,110 832,160 L826,205 L720,292 Z" /><path class="h" d="M666,122 C698,147 721,207 718,247" /><path class="h" d="M692,109 C724,134 747,194 744,231" /><path class="h" d="M718,96 C750,121 773,181 770,215" /><path class="h" d="M744,83 C776,108 799,168 796,199" /><path class="l" d="M418,232 L598,126 L642,132 C690,170 725,250 720,322 L700,336 L537,426 C500,428 440,390 420,300 Z" /><path class="n" d="M562.7,385.2 L560.9,391.7 L558.6,397.5 L555.7,402.8 L552.3,407.3 L548.4,411.1 L544.0,414.2 L539.1,416.5 L533.9,418.0 L528.2,418.6 L522.3,418.5 L516.0,417.6 L509.5,415.8 L502.9,413.3 L496.0,410.0 L489.1,406.0 L482.2,401.2 L475.3,395.7 L468.5,389.7 L461.8,383.0 L455.2,375.8 L448.9,368.1 L442.9,360.0 L437.2,351.5 L431.9,342.7 L426.9,333.7 L422.4,324.5 L418.4,315.2 L414.9,305.9 L411.9,296.6 L409.5,287.5 L407.6,278.5 L406.4,269.8 L405.7,261.4 L405.6,253.4 L406.2,245.9 L407.3,238.8 L409.1,232.3 L411.4,226.5 L414.3,221.2 L417.7,216.7 L421.6,212.9 L426.0,209.8 L430.9,207.5 L436.1,206.0 L441.8,205.4 L447.7,205.5 L454.0,206.4 L460.5,208.2" /><path class="n" d="M490,190 L548,262 L640,332 M548,262 L560,415 M575,142 L548,262" /><path class="t" d="M642,132 C660,180 690,260 700,336" /></g><g transform="translate(40,380) scale(0.11703)" ><path class="l" d="M148.0,504.9 L153.2,514.6 L157.5,524.5 L161.0,534.5 L163.7,544.4 L165.3,554.0 L166.0,563.1 L165.7,571.7 L164.4,579.5 L162.1,586.4 L158.9,592.3 L154.9,597.1 L150.0,600.7 L144.4,603.1 L138.2,604.2 L131.5,604.0 L124.4,602.5 L117.0,599.8 L109.4,595.8 L101.8,590.6 L94.3,584.4 L87.1,577.2 L80.2,569.1 L73.8,560.4 L68.0,551.1 L62.8,541.4 L58.5,531.5 L55.0,521.5 L52.3,511.6 L50.7,502.0 L50.0,492.9 L50.3,484.3 L51.6,476.5 L53.9,469.6 L57.1,463.7 L61.1,458.9 L66.0,455.3 L71.6,452.9 L77.8,451.8 L84.5,452.0 L91.6,453.5 L99.0,456.2 L106.6,460.2 L114.2,465.4 L121.6,471.6 L128.9,478.8 L135.8,486.9 L142.2,495.6 L148.0,504.9 Z" /><path class="w" d="M66.0,455.3 L108.0,432.3 L192.0,577.7 L150.0,600.7 Z" /><path class="n" d="M66,455 L108,432 M150,601 L192,578" /><path class="n" d="M150.0,600.7 L147.3,602.1 L144.4,603.1 L141.4,603.9 L138.2,604.2 L134.9,604.3 L131.5,604.0 L128.0,603.5 L124.4,602.5 L120.7,601.3 L117.0,599.8 L113.2,597.9 L109.4,595.8 L105.6,593.3 L101.8,590.6 L98.1,587.6 L94.3,584.4 L90.7,580.9 L87.1,577.2 L83.6,573.3 L80.2,569.1 L77.0,564.8 L73.8,560.4 L70.8,555.8 L68.0,551.1 L65.3,546.3 L62.8,541.4 L60.6,536.5 L58.5,531.5 L56.6,526.5 L55.0,521.5 L53.5,516.5 L52.3,511.6 L51.4,506.8 L50.7,502.0 L50.2,497.4 L50.0,492.9 L50.0,488.5 L50.3,484.3 L50.8,480.3 L51.6,476.5 L52.6,473.0 L53.9,469.6 L55.4,466.5 L57.1,463.7 L59.0,461.2 L61.1,458.9 L63.5,456.9 L66.0,455.3" /><path class="t" d="M166.0,591.7 L163.3,593.1 L160.4,594.1 L157.4,594.9 L154.2,595.2 L150.9,595.3 L147.5,595.0 L144.0,594.5 L140.4,593.5 L136.7,592.3 L133.0,590.8 L129.2,588.9 L125.4,586.8 L121.6,584.3 L117.8,581.6 L114.1,578.6 L110.3,575.4 L106.7,571.9 L103.1,568.2 L99.6,564.3 L96.2,560.1 L93.0,555.8 L89.8,551.4 L86.8,546.8 L84.0,542.1 L81.3,537.3 L78.8,532.4 L76.6,527.5 L74.5,522.5 L72.6,517.5 L71.0,512.5 L69.5,507.5 L68.3,502.6 L67.4,497.8 L66.7,493.0 L66.2,488.4 L66.0,483.9 L66.0,479.5 L66.3,475.3 L66.8,471.3 L67.6,467.5 L68.6,464.0 L69.9,460.6 L71.4,457.5 L73.1,454.7 L75.0,452.2 L77.1,449.9 L79.5,447.9 L82.0,446.3" /><path class="l" d="M208.6,471.9 L214.8,483.7 L220.1,495.8 L224.4,507.9 L227.6,519.9 L229.6,531.5 L230.4,542.6 L230.0,553.0 L228.5,562.5 L225.7,570.9 L221.8,578.1 L216.9,583.9 L211.0,588.3 L204.2,591.2 L196.7,592.6 L188.5,592.3 L179.9,590.5 L170.9,587.2 L161.7,582.3 L152.5,576.0 L143.4,568.5 L134.6,559.7 L126.3,550.0 L118.5,539.3 L111.4,528.0 L105.2,516.3 L99.9,504.2 L95.6,492.1 L92.4,480.1 L90.4,468.5 L89.6,457.4 L90.0,447.0 L91.5,437.5 L94.3,429.1 L98.2,421.9 L103.1,416.1 L109.0,411.7 L115.8,408.8 L123.3,407.4 L131.5,407.7 L140.1,409.5 L149.1,412.8 L158.3,417.7 L167.5,424.0 L176.6,431.5 L185.4,440.3 L193.7,450.0 L201.5,460.7 L208.6,471.9 Z" /><path class="l" d="M230.6,459.9 L236.8,471.7 L242.1,483.8 L246.4,495.9 L249.6,507.9 L251.6,519.5 L252.4,530.6 L252.0,541.0 L250.5,550.5 L247.7,558.9 L243.8,566.1 L238.9,571.9 L233.0,576.3 L226.2,579.2 L218.7,580.6 L210.5,580.3 L201.9,578.5 L192.9,575.2 L183.7,570.3 L174.5,564.0 L165.4,556.5 L156.6,547.7 L148.3,538.0 L140.5,527.3 L133.4,516.0 L127.2,504.3 L121.9,492.2 L117.6,480.1 L114.4,468.1 L112.4,456.5 L111.6,445.4 L112.0,435.0 L113.5,425.5 L116.3,417.1 L120.2,409.9 L125.1,404.1 L131.0,399.7 L137.8,396.8 L145.3,395.4 L153.5,395.7 L162.1,397.5 L171.1,400.8 L180.3,405.7 L189.5,412.0 L198.6,419.5 L207.4,428.3 L215.7,438.0 L223.5,448.7 L230.6,459.9 Z" /><path class="g" d="M164.0,419.6 L264.0,365.6 L336.0,490.4 L236.0,544.4 Z" style="stroke:none;fill:#777"/><path class="g" d="M234.3,462.2 L238.7,470.5 L242.4,479.0 L245.5,487.6 L247.7,496.0 L249.1,504.3 L249.7,512.1 L249.4,519.4 L248.3,526.1 L246.4,532.0 L243.6,537.1 L240.2,541.2 L236.0,544.4 L231.2,546.4 L225.9,547.4 L220.1,547.2 L214.0,545.9 L207.7,543.5 L201.2,540.1 L194.7,535.7 L188.3,530.3 L182.1,524.2 L176.2,517.3 L170.7,509.8 L165.7,501.8 L161.3,493.5 L157.6,485.0 L154.5,476.4 L152.3,468.0 L150.9,459.7 L150.3,451.9 L150.6,444.6 L151.7,437.9 L153.6,432.0 L156.4,426.9 L159.8,422.8 L164.0,419.6 L168.8,417.6 L174.1,416.6 L179.9,416.8 L186.0,418.1 L192.3,420.5 L198.8,423.9 L205.3,428.3 L211.7,433.7 L217.9,439.8 L223.8,446.7 L229.3,454.2 L234.3,462.2 Z" style="fill:#777"/><path class="n" d="M164,420 L264,366 M236,544 L336,490" /><path class="h" d="M186.0,407.6 L188.3,406.5 L190.8,405.6 L193.4,405.0 L196.1,404.6 L198.9,404.6 L201.9,404.8 L204.9,405.3 L208.0,406.1 L211.1,407.2 L214.3,408.5 L217.5,410.1 L220.8,411.9 L224.0,414.0 L227.3,416.3 L230.5,418.9 L233.7,421.7 L236.8,424.7 L239.9,427.8 L242.9,431.2 L245.8,434.7 L248.6,438.4 L251.3,442.2 L253.9,446.2 L256.3,450.2 L258.6,454.3 L260.7,458.5 L262.7,462.7 L264.4,467.0 L266.0,471.3 L267.5,475.6 L268.7,479.8 L269.7,484.0 L270.5,488.2 L271.1,492.3 L271.5,496.2 L271.7,500.1 L271.7,503.8 L271.4,507.4 L271.0,510.8 L270.3,514.1 L269.5,517.2 L268.4,520.0 L267.1,522.7 L265.6,525.1 L264.0,527.3 L262.2,529.2 L260.2,530.9 L258.0,532.4" style="stroke:#333"/><path class="h" d="M208.0,395.6 L210.3,394.5 L212.8,393.6 L215.4,393.0 L218.1,392.6 L220.9,392.6 L223.9,392.8 L226.9,393.3 L230.0,394.1 L233.1,395.2 L236.3,396.5 L239.5,398.1 L242.8,399.9 L246.0,402.0 L249.3,404.3 L252.5,406.9 L255.7,409.7 L258.8,412.7 L261.9,415.8 L264.9,419.2 L267.8,422.7 L270.6,426.4 L273.3,430.2 L275.9,434.2 L278.3,438.2 L280.6,442.3 L282.7,446.5 L284.7,450.7 L286.4,455.0 L288.0,459.3 L289.5,463.6 L290.7,467.8 L291.7,472.0 L292.5,476.2 L293.1,480.3 L293.5,484.2 L293.7,488.1 L293.7,491.8 L293.4,495.4 L293.0,498.8 L292.3,502.1 L291.5,505.2 L290.4,508.0 L289.1,510.7 L287.6,513.1 L286.0,515.3 L284.2,517.2 L282.2,518.9 L280.0,520.4" style="stroke:#333"/><path class="h" d="M230.0,383.6 L232.3,382.5 L234.8,381.6 L237.4,381.0 L240.1,380.6 L242.9,380.6 L245.9,380.8 L248.9,381.3 L252.0,382.1 L255.1,383.2 L258.3,384.5 L261.5,386.1 L264.8,387.9 L268.0,390.0 L271.3,392.3 L274.5,394.9 L277.7,397.7 L280.8,400.7 L283.9,403.8 L286.9,407.2 L289.8,410.7 L292.6,414.4 L295.3,418.2 L297.9,422.2 L300.3,426.2 L302.6,430.3 L304.7,434.5 L306.7,438.7 L308.4,443.0 L310.0,447.3 L311.5,451.6 L312.7,455.8 L313.7,460.0 L314.5,464.2 L315.1,468.3 L315.5,472.2 L315.7,476.1 L315.7,479.8 L315.4,483.4 L315.0,486.8 L314.3,490.1 L313.5,493.2 L312.4,496.0 L311.1,498.7 L309.6,501.1 L308.0,503.3 L306.2,505.2 L304.2,506.9 L302.0,508.4" style="stroke:#333"/><path class="h" d="M250.0,373.6 L252.3,372.5 L254.8,371.6 L257.4,371.0 L260.1,370.6 L262.9,370.6 L265.9,370.8 L268.9,371.3 L272.0,372.1 L275.1,373.2 L278.3,374.5 L281.5,376.1 L284.8,377.9 L288.0,380.0 L291.3,382.3 L294.5,384.9 L297.7,387.7 L300.8,390.7 L303.9,393.8 L306.9,397.2 L309.8,400.7 L312.6,404.4 L315.3,408.2 L317.9,412.2 L320.3,416.2 L322.6,420.3 L324.7,424.5 L326.7,428.7 L328.4,433.0 L330.0,437.3 L331.5,441.6 L332.7,445.8 L333.7,450.0 L334.5,454.2 L335.1,458.3 L335.5,462.2 L335.7,466.1 L335.7,469.8 L335.4,473.4 L335.0,476.8 L334.3,480.1 L333.5,483.2 L332.4,486.0 L331.1,488.7 L329.6,491.1 L328.0,493.3 L326.2,495.2 L324.2,496.9 L322.0,498.4" style="stroke:#333"/><path class="k" d="M236,546 L330,495" style="stroke-width:2.2"/><path class="l" d="M346.7,404.7 L351.0,413.0 L354.7,421.6 L357.5,430.2 L359.5,438.8 L360.6,447.3 L360.8,455.3 L360.1,462.9 L358.5,469.8 L356.1,476.1 L352.8,481.5 L348.7,485.9 L344.0,489.4 L338.6,491.7 L332.8,493.0 L326.5,493.1 L319.8,492.2 L313.0,490.1 L306.1,486.9 L299.2,482.7 L292.5,477.5 L286.1,471.5 L280.0,464.7 L274.4,457.3 L269.3,449.3 L265.0,441.0 L261.3,432.4 L258.5,423.8 L256.5,415.2 L255.4,406.7 L255.2,398.7 L255.9,391.1 L257.5,384.2 L259.9,377.9 L263.2,372.5 L267.3,368.1 L272.0,364.6 L277.4,362.3 L283.2,361.0 L289.5,360.9 L296.2,361.8 L303.0,363.9 L309.9,367.1 L316.8,371.3 L323.5,376.5 L329.9,382.5 L336.0,389.3 L341.6,396.7 L346.7,404.7 Z" /><path class="n" d="M330.8,413.5 L333.9,419.3 L336.4,425.2 L338.4,431.3 L339.8,437.2 L340.5,443.1 L340.7,448.7 L340.2,453.9 L339.1,458.8 L337.4,463.1 L335.1,466.8 L332.3,469.9 L329.0,472.3 L325.3,474.0 L321.2,474.8 L316.8,474.9 L312.2,474.2 L307.5,472.8 L302.7,470.6 L297.9,467.7 L293.2,464.1 L288.8,459.9 L284.5,455.2 L280.6,450.0 L277.2,444.5 L274.1,438.7 L271.6,432.8 L269.6,426.7 L268.2,420.8 L267.5,414.9 L267.3,409.3 L267.8,404.1 L268.9,399.2 L270.6,394.9 L272.9,391.2 L275.7,388.1 L279.0,385.7 L282.7,384.0 L286.8,383.2 L291.2,383.1 L295.8,383.8 L300.5,385.2 L305.3,387.4 L310.1,390.3 L314.8,393.9 L319.2,398.1 L323.5,402.8 L327.4,408.0 L330.8,413.5 Z" /><path class="t" d="M315.2,422.1 L317.1,425.8 L318.7,429.6 L320.0,433.4 L320.9,437.3 L321.4,441.0 L321.5,444.6 L321.2,447.9 L320.4,451.0 L319.4,453.8 L317.9,456.2 L316.1,458.2 L314.0,459.7 L311.6,460.8 L309.0,461.3 L306.2,461.4 L303.3,461.0 L300.2,460.0 L297.2,458.6 L294.1,456.7 L291.1,454.4 L288.2,451.8 L285.5,448.8 L283.1,445.5 L280.8,441.9 L278.9,438.2 L277.3,434.4 L276.0,430.6 L275.1,426.7 L274.6,423.0 L274.5,419.4 L274.8,416.1 L275.6,413.0 L276.6,410.2 L278.1,407.8 L279.9,405.8 L282.0,404.3 L284.4,403.2 L287.0,402.7 L289.8,402.6 L292.7,403.0 L295.8,404.0 L298.8,405.4 L301.9,407.3 L304.9,409.6 L307.8,412.2 L310.5,415.2 L312.9,418.5 L315.2,422.1 Z" /></g>
<g transform="translate(700,520) scale(0.10638)" ><path class="g" d="M250,150 L360,95 C400,95 440,140 445,190 L440,228 L350,278 Z" style="fill:#5c5c5c"/><path class="h" d="M290,132 C330,170 345,220 380,260 M330,112 C370,150 390,200 415,240" style="stroke:#999"/><path class="l" d="M232,150 L250,150 L320,160 L352,278 L340,292 L300,250 Z" /><path class="l" d="M120,270 L160,195 L232,150 L300,162 L345,232 L345,292 L300,330 L285,362 L265,352 L120,288 Z" /><path class="n" d="M160,195 L215,215 L300,162 M215,215 L190,290 M215,215 L290,275 L345,232 M290,275 L285,362 M250,180 L300,250" style="stroke-width:.7"/><path class="g" d="M120,290 L258,350 L232,402 L105,356 Z" style="fill:#8a8a8a"/><path class="h" d="M115,310 L250,366 M110,330 L242,384" style="stroke:#444"/><path class="l" d="M95,366 L105,356 L232,402 L216,436 L180,446 L100,406 Z" /><path class="t" d="M100,385 L222,425" /></g><g transform="translate(41,25.5)"><g transform="translate(700,520) scale(0.10638)" ><path class="g" d="M250,150 L360,95 C400,95 440,140 445,190 L440,228 L350,278 Z" style="fill:#5c5c5c"/><path class="h" d="M290,132 C330,170 345,220 380,260 M330,112 C370,150 390,200 415,240" style="stroke:#999"/><path class="l" d="M232,150 L250,150 L320,160 L352,278 L340,292 L300,250 Z" /><path class="l" d="M120,270 L160,195 L232,150 L300,162 L345,232 L345,292 L300,330 L285,362 L265,352 L120,288 Z" /><path class="n" d="M160,195 L215,215 L300,162 M215,215 L190,290 M215,215 L290,275 L345,232 M290,275 L285,362 M250,180 L300,250" style="stroke-width:.7"/><path class="g" d="M120,290 L258,350 L232,402 L105,356 Z" style="fill:#8a8a8a"/><path class="h" d="M115,310 L250,366 M110,330 L242,384" style="stroke:#444"/><path class="l" d="M95,366 L105,356 L232,402 L216,436 L180,446 L100,406 Z" /><path class="t" d="M100,385 L222,425" /></g></g>
<g transform="translate(520,535) scale(0.10638)" ><path class="g" d="M88,245 C90,170 150,85 225,80 L290,100 L330,125 L270,420 L215,395 L150,330 C110,310 88,280 88,245 Z" style="fill:#8c8c8c"/><path class="h" d="M125,150 C105,200 120,290 160,335 M165,105 C135,170 150,300 200,380 M205,90 C170,160 185,300 240,400" style="stroke:#444"/><path class="l" d="M118,215 L150,225 L150,300 L125,290 Z" style="stroke-width:.7"/><path class="l" d="M270,105 C300,92 350,95 400,130 L432,182 L300,440 L250,425 C200,380 180,300 190,230 C200,170 235,120 270,105 Z" /><path class="n" d="M235,135 C200,220 215,350 275,430 M300,112 C250,180 240,300 290,400" /><path class="k" d="M205,170 C180,250 190,350 240,415" style="stroke-width:2"/><path class="g" d="M600,182 L680,142 C740,125 800,150 835,195 C855,240 850,300 822,342 L745,366 L690,242 Z" style="fill:#8c8c8c"/><path class="h" d="M650,160 C720,200 770,280 770,358 M700,142 C770,180 810,260 800,350 M750,140 C810,175 840,250 830,330" style="stroke:#444"/><path class="l" d="M300,182 L400,135 L500,226 L600,182 L640,166 L690,242 L745,362 L620,470 L520,532 L468,522 L300,412 L258,350 Z" /><path class="n" d="M300,236 L450,320 L560,320 L690,242 M450,320 L410,420 M560,320 L612,420 L745,362 M300,340 L410,420 L440,465 L600,460 L612,420" style="stroke-width:.8"/><path class="n" d="M300,182 L300,236 L258,350" style="stroke-width:.8"/></g>
<g transform="translate(-72,-46)"><g transform="translate(258,540) scale(0.94) translate(-258,-540)"><g transform="translate(215,500) scale(0.10152)" ><path class="g" d="M545,100 C580,70 640,60 700,85 C750,120 775,190 768,240 L750,292 L692,332 C670,250 620,160 545,100 Z" style="fill:#a2a2a2;stroke-width:.9"/><path class="h" d="M584,93 C639,140 682,225 707,308" style="stroke:#555;stroke-width:.7"/><path class="h" d="M608,88 C663,135 703,220 725,291" style="stroke:#555;stroke-width:.7"/><path class="h" d="M632,83 C687,130 725,215 742,274" style="stroke:#555;stroke-width:.7"/><path class="h" d="M656,78 C711,125 746,210 759,257" style="stroke:#555;stroke-width:.7"/><path class="k" d="M532,108 C600,165 655,255 682,340" style="stroke-width:2.2;stroke:#333"/><path class="l" d="M370,175 L455,105 L545,100 C610,160 660,250 690,335 L640,402 L590,428 L550,442 L470,330 Z" /><path class="n" d="M385,192 L500,165 L545,100 M500,165 L590,292 L590,428 M590,292 L650,262" style="stroke-width:.8"/><path class="n" d="M370,175 L385,192 L475,208 L550,312 L550,442" style="stroke-width:.8"/><path class="t" d="M640,402 C665,370 668,320 640,262" /><path class="l" d="M160,360 L215,270 L300,202 L390,180 L470,215 L545,312 L550,442 L472,522 L440,510 L165,372 Z" /><path class="n" d="M215,270 L265,300 L350,255 L390,180 M350,255 L370,330 L440,345 L545,312 M265,300 L240,380 M270,362 L300,340 L370,330 M440,345 L420,440 L398,470" style="stroke-width:.7;stroke:#555"/><path class="c" d="M455,350 L560,300" style="stroke-width:.7"/><path class="l" d="M165,372 L440,510 L330,730 L292,752 L230,755 L90,662 L50,600 Z" /><path class="g" d="M165,372 L440,510 L335,722 L62,582 Z" style="fill:#cbcbcb;stroke:#555;stroke-width:.8"/><path class="h" d="M158,387 L432,525" style="stroke:#777;stroke-width:.6"/><path class="h" d="M150,402 L425,540" style="stroke:#777;stroke-width:.6"/><path class="h" d="M143,417 L418,555" style="stroke:#777;stroke-width:.6"/><path class="h" d="M136,432 L410,571" style="stroke:#777;stroke-width:.6"/><path class="h" d="M128,447 L402,586" style="stroke:#777;stroke-width:.6"/><path class="h" d="M121,462 L395,601" style="stroke:#777;stroke-width:.6"/><path class="h" d="M114,477 L388,616" style="stroke:#777;stroke-width:.6"/><path class="h" d="M106,492 L380,631" style="stroke:#777;stroke-width:.6"/><path class="h" d="M99,507 L372,646" style="stroke:#777;stroke-width:.6"/><path class="h" d="M91,522 L365,661" style="stroke:#777;stroke-width:.6"/><path class="h" d="M84,537 L358,677" style="stroke:#777;stroke-width:.6"/><path class="h" d="M77,552 L350,692" style="stroke:#777;stroke-width:.6"/><path class="h" d="M69,567 L342,707" style="stroke:#777;stroke-width:.6"/></g></g></g>
<g transform="translate(215,500) scale(0.10152)" ><path class="g" d="M545,100 C580,70 640,60 700,85 C750,120 775,190 768,240 L750,292 L692,332 C670,250 620,160 545,100 Z" style="fill:#a2a2a2;stroke-width:.9"/><path class="h" d="M584,93 C639,140 682,225 707,308" style="stroke:#555;stroke-width:.7"/><path class="h" d="M608,88 C663,135 703,220 725,291" style="stroke:#555;stroke-width:.7"/><path class="h" d="M632,83 C687,130 725,215 742,274" style="stroke:#555;stroke-width:.7"/><path class="h" d="M656,78 C711,125 746,210 759,257" style="stroke:#555;stroke-width:.7"/><path class="k" d="M532,108 C600,165 655,255 682,340" style="stroke-width:2.2;stroke:#333"/><path class="l" d="M370,175 L455,105 L545,100 C610,160 660,250 690,335 L640,402 L590,428 L550,442 L470,330 Z" /><path class="n" d="M385,192 L500,165 L545,100 M500,165 L590,292 L590,428 M590,292 L650,262" style="stroke-width:.8"/><path class="n" d="M370,175 L385,192 L475,208 L550,312 L550,442" style="stroke-width:.8"/><path class="t" d="M640,402 C665,370 668,320 640,262" /><path class="l" d="M160,360 L215,270 L300,202 L390,180 L470,215 L545,312 L550,442 L472,522 L440,510 L165,372 Z" /><path class="n" d="M215,270 L265,300 L350,255 L390,180 M350,255 L370,330 L440,345 L545,312 M265,300 L240,380 M270,362 L300,340 L370,330 M440,345 L420,440 L398,470" style="stroke-width:.7;stroke:#555"/><path class="c" d="M455,350 L560,300" style="stroke-width:.7"/><path class="l" d="M165,372 L440,510 L330,730 L292,752 L230,755 L90,662 L50,600 Z" /><path class="g" d="M165,372 L440,510 L335,722 L62,582 Z" style="fill:#cbcbcb;stroke:#555;stroke-width:.8"/><path class="h" d="M158,387 L432,525" style="stroke:#777;stroke-width:.6"/><path class="h" d="M150,402 L425,540" style="stroke:#777;stroke-width:.6"/><path class="h" d="M143,417 L418,555" style="stroke:#777;stroke-width:.6"/><path class="h" d="M136,432 L410,571" style="stroke:#777;stroke-width:.6"/><path class="h" d="M128,447 L402,586" style="stroke:#777;stroke-width:.6"/><path class="h" d="M121,462 L395,601" style="stroke:#777;stroke-width:.6"/><path class="h" d="M114,477 L388,616" style="stroke:#777;stroke-width:.6"/><path class="h" d="M106,492 L380,631" style="stroke:#777;stroke-width:.6"/><path class="h" d="M99,507 L372,646" style="stroke:#777;stroke-width:.6"/><path class="h" d="M91,522 L365,661" style="stroke:#777;stroke-width:.6"/><path class="h" d="M84,537 L358,677" style="stroke:#777;stroke-width:.6"/><path class="h" d="M77,552 L350,692" style="stroke:#777;stroke-width:.6"/><path class="h" d="M69,567 L342,707" style="stroke:#777;stroke-width:.6"/></g>
<g transform="translate(238.6,151.6)"><g transform="translate(40,380) scale(0.11703)" ><path class="g" d="M640,135 L745,82 C790,72 835,110 832,160 L826,205 L720,292 Z" /><path class="h" d="M666,122 C698,147 721,207 718,247" /><path class="h" d="M692,109 C724,134 747,194 744,231" /><path class="h" d="M718,96 C750,121 773,181 770,215" /><path class="h" d="M744,83 C776,108 799,168 796,199" /><path class="l" d="M418,232 L598,126 L642,132 C690,170 725,250 720,322 L700,336 L537,426 C500,428 440,390 420,300 Z" /><path class="n" d="M562.7,385.2 L560.9,391.7 L558.6,397.5 L555.7,402.8 L552.3,407.3 L548.4,411.1 L544.0,414.2 L539.1,416.5 L533.9,418.0 L528.2,418.6 L522.3,418.5 L516.0,417.6 L509.5,415.8 L502.9,413.3 L496.0,410.0 L489.1,406.0 L482.2,401.2 L475.3,395.7 L468.5,389.7 L461.8,383.0 L455.2,375.8 L448.9,368.1 L442.9,360.0 L437.2,351.5 L431.9,342.7 L426.9,333.7 L422.4,324.5 L418.4,315.2 L414.9,305.9 L411.9,296.6 L409.5,287.5 L407.6,278.5 L406.4,269.8 L405.7,261.4 L405.6,253.4 L406.2,245.9 L407.3,238.8 L409.1,232.3 L411.4,226.5 L414.3,221.2 L417.7,216.7 L421.6,212.9 L426.0,209.8 L430.9,207.5 L436.1,206.0 L441.8,205.4 L447.7,205.5 L454.0,206.4 L460.5,208.2" /><path class="n" d="M490,190 L548,262 L640,332 M548,262 L560,415 M575,142 L548,262" /><path class="t" d="M642,132 C660,180 690,260 700,336" /></g></g><g transform="translate(310,520) scale(0.16502)" ><path class="g" d="M372,610 L470,565 L497,640 C490,675 430,705 398,698 Z" /><path class="l" d="M318,598 L460,528 C472,535 474,550 468,560 L335,628 C322,625 315,610 318,598 Z" /><path class="l" d="M335,628 L350,655 L480,590 L468,560" /><path class="g" d="M272,482 C285,455 345,425 372,432 L440,540 L330,592 Z" /><path class="h" d="M281,499 C311,507 361,479 381,449" /><path class="h" d="M290,516 C320,524 370,496 390,466" /><path class="h" d="M299,533 C329,541 379,513 399,483" /><path class="h" d="M308,550 C338,558 388,530 408,500" /><path class="h" d="M317,567 C347,575 397,547 417,517" /><path class="h" d="M326,584 C356,592 406,564 426,534" /><path class="h" d="M381,628 C411,636 456,613 479,583" /><path class="h" d="M387,644 C417,652 462,629 485,599" /><path class="h" d="M393,660 C423,668 468,645 491,615" /><path class="h" d="M399,676 C429,684 474,661 497,631" /></g>
<g transform="translate(490,260) scale(0.08881)" ><path class="l" d="M572,236.5 L1508,-289.5 C1530,-300 1550,-260 1534,-242.5 L598,283.5 Z" /><path class="t" d="M590,262 L1515,-258" /><path class="l" d="M448,258 C455,225 520,200 552,232 L600,305 C603,340 560,378 528,372 L490,330 Z" /><path class="t" d="M552,232 C535,262 520,320 528,372" /><path class="l" d="M228,292 L285,240 L400,222 L440,262 L520,385 L512,478 L452,535 L420,528 L300,330 Z" /><path class="n" d="M228,292 L355,285 L440,262 M355,285 L432,415 L520,385 M432,415 L452,535" /><path class="t" d="M285,240 L300,262 M400,222 L395,250" /><path class="g" d="M150,385 C190,320 260,290 300,300 C360,320 410,420 395,510 C380,560 320,595 250,590 Z" style="fill:#505050"/><path class="h" d="M195,345 C290,350 350,450 340,570 M235,315 C320,330 385,430 372,545" style="stroke:#aaa"/><path class="l" d="M100,500 C95,440 150,395 200,400 C250,405 285,470 270,530 C260,580 200,600 160,580 C120,570 100,540 100,500 Z" /><path class="t" d="M160,430 C225,430 262,500 240,575" /><ellipse class="n" cx="155" cy="520" rx="28" ry="32" /><ellipse class="t" cx="155" cy="522" rx="12" ry="14" /></g><g transform="translate(73.6,44.2)"><g transform="translate(490,260) scale(0.08881)" ><path class="l" d="M572,236.5 L1508,-289.5 C1530,-300 1550,-260 1534,-242.5 L598,283.5 Z" /><path class="t" d="M590,262 L1515,-258" /><path class="l" d="M448,258 C455,225 520,200 552,232 L600,305 C603,340 560,378 528,372 L490,330 Z" /><path class="t" d="M552,232 C535,262 520,320 528,372" /><path class="l" d="M228,292 L285,240 L400,222 L440,262 L520,385 L512,478 L452,535 L420,528 L300,330 Z" /><path class="n" d="M228,292 L355,285 L440,262 M355,285 L432,415 L520,385 M432,415 L452,535" /><path class="t" d="M285,240 L300,262 M400,222 L395,250" /><path class="g" d="M150,385 C190,320 260,290 300,300 C360,320 410,420 395,510 C380,560 320,595 250,590 Z" style="fill:#505050"/><path class="h" d="M195,345 C290,350 350,450 340,570 M235,315 C320,330 385,430 372,545" style="stroke:#aaa"/><path class="l" d="M100,500 C95,440 150,395 200,400 C250,405 285,470 270,530 C260,580 200,600 160,580 C120,570 100,540 100,500 Z" /><path class="t" d="M160,430 C225,430 262,500 240,575" /><ellipse class="n" cx="155" cy="520" rx="28" ry="32" /><ellipse class="t" cx="155" cy="522" rx="12" ry="14" /></g></g>
<path class="c" d="M217.3,143 L217.3,152 M217.3,177 L217.3,190"/><path class="c" d="M217.3,66 L217.3,74"/><g transform="translate(0,0)"><g transform="translate(155,40) scale(0.13959)" ><path class="l" d="M245,330 C245,270 340,228 445,228 C560,228 650,280 650,340 L650,640 C600,720 520,745 440,745 C350,745 270,700 240,650 L130,710 L65,680 L55,640 L90,520 C140,490 180,465 200,450 C230,425 240,390 245,330 Z" /><path class="n" d="M650,345 C640,390 560,435 430,440 C340,455 230,500 130,560" /><path class="t" d="M650,378 C630,420 550,460 430,466 C350,478 290,495 240,520" /><path class="n" d="M90,520 L130,560 L130,710" /><path class="t" d="M105,540 L100,690" /><path class="k" d="M240,650 C300,622 350,606 405,603" /><path class="n" d="M430,440 L430,600" /><path class="n" d="M240,520 L240,650" /><path class="n" d="M430,600 C520,595 600,565 650,520" /><path class="n" d="M600,560 L600,705" /><path class="t" d="M640,360 L640,650" /><path class="c" d="M445,232 L445,300" /><ellipse class="d" cx="445" cy="340" rx="66" ry="36" /><path class="h" d="M415,322 L415,362 M438,318 L438,368 M462,320 L462,366 M482,326 L482,358" style="stroke:#999"/></g></g><g transform="translate(0,0)"><g transform="translate(155,40) scale(0.13959)" ><path class="l" d="M365,130 L395,92 L468,78 L525,108 L525,165 L480,205 L410,195 L365,160 Z" /><path class="n" d="M365,130 L420,160 L495,150 L525,108" /><path class="n" d="M420,160 L410,195 M495,150 L480,205" /><ellipse class="n" cx="448" cy="120" rx="44" ry="24" /><ellipse class="t" cx="448" cy="121" rx="27" ry="14" /></g></g><g transform="translate(0,0)"><g transform="translate(0,0.00) scale(1,1.0)"><g transform="translate(180,145) scale(0.10152)" ><ellipse cx="368" cy="106" rx="95" ry="40" fill="none" stroke="#3a3a3a" stroke-width="3"/><ellipse cx="368" cy="106" rx="95" ry="40" fill="none" stroke="#fff" stroke-width="1"/><ellipse cx="368" cy="163" rx="95" ry="40" fill="none" stroke="#3a3a3a" stroke-width="3"/><ellipse cx="368" cy="163" rx="95" ry="40" fill="none" stroke="#fff" stroke-width="1"/><ellipse cx="368" cy="220" rx="95" ry="40" fill="none" stroke="#3a3a3a" stroke-width="3"/><ellipse cx="368" cy="220" rx="95" ry="40" fill="none" stroke="#fff" stroke-width="1"/><ellipse cx="368" cy="272" rx="95" ry="40" fill="none" stroke="#3a3a3a" stroke-width="3"/><ellipse cx="368" cy="272" rx="95" ry="40" fill="none" stroke="#fff" stroke-width="1"/></g></g></g><g transform="translate(0,0)"><g transform="translate(170,185) scale(0.15228)" ><path class="l" d="M150,268 C150,205 228,166 312,166 C396,166 472,205 472,262 L470,545 L395,620 L385,625 L385,700 C385,748 235,748 235,700 L235,612 L205,600 L150,530 Z" /><path class="n" d="M150,268 L195,328 C230,350 300,362 340,362 C400,350 440,310 472,262" /><path class="t" d="M166,262 C175,300 250,340 330,342 C400,335 445,295 458,255" /><path class="n" d="M200,335 L205,600 M335,362 L330,635" /><path class="t" d="M190,330 L190,585 M345,362 L345,630 M455,280 L455,560" /><path class="n" d="M150,530 L205,600 L330,635 L395,620 L470,545" /><path class="n" d="M235,648 C235,690 385,690 385,648" /><path class="n" d="M235,672 C235,712 385,712 385,672" /><path class="k" d="M245,625 C270,648 350,648 378,628" /><ellipse class="n" cx="310" cy="250" rx="80" ry="38" /><ellipse class="t" cx="310" cy="256" rx="62" ry="28" /><path class="l" d="M268,268 L266,170 L262,110 L272,95 L277,58 C279,22 341,22 343,58 L348,95 L358,110 L354,170 L352,268 C340,285 285,285 268,268 Z" /><path class="d" d="M258,170 L360,170 L356,202 L262,202 Z" style="fill:#333;stroke:none"/><path class="h" d="M295,172 L295,200 M318,172 L318,200 M338,172 L338,200" style="stroke:#aaa;stroke-width:.8"/><path class="d" d="M294,118 L324,118 L324,128 L294,128 Z" style="stroke:none"/><path class="n" d="M262,110 C290,122 330,122 358,110 M277,66 C295,78 328,78 343,66 M272,95 C295,106 330,106 348,95 M264,145 C295,158 330,158 356,145" /><path class="t" d="M288,205 L288,275 M334,205 L334,275" /></g></g>
<path class="c" d="M468.0,238.2 L468.0,247.2 M468.0,272.2 L468.0,339.0"/><path class="c" d="M468.0,154.2 L468.0,169.2"/><g transform="translate(250.7,95.2)"><g transform="translate(155,40) scale(0.13959)" ><path class="l" d="M245,330 C245,270 340,228 445,228 C560,228 650,280 650,340 L650,640 C600,720 520,745 440,745 C350,745 270,700 240,650 L130,710 L65,680 L55,640 L90,520 C140,490 180,465 200,450 C230,425 240,390 245,330 Z" /><path class="n" d="M650,345 C640,390 560,435 430,440 C340,455 230,500 130,560" /><path class="t" d="M650,378 C630,420 550,460 430,466 C350,478 290,495 240,520" /><path class="n" d="M90,520 L130,560 L130,710" /><path class="t" d="M105,540 L100,690" /><path class="k" d="M240,650 C300,622 350,606 405,603" /><path class="n" d="M430,440 L430,600" /><path class="n" d="M240,520 L240,650" /><path class="n" d="M430,600 C520,595 600,565 650,520" /><path class="n" d="M600,560 L600,705" /><path class="t" d="M640,360 L640,650" /><path class="c" d="M445,232 L445,300" /><ellipse class="d" cx="445" cy="340" rx="66" ry="36" /><path class="h" d="M415,322 L415,362 M438,318 L438,368 M462,320 L462,366 M482,326 L482,358" style="stroke:#999"/></g></g><g transform="translate(250.7,88.2)"><g transform="translate(155,40) scale(0.13959)" ><path class="l" d="M365,130 L395,92 L468,78 L525,108 L525,165 L480,205 L410,195 L365,160 Z" /><path class="n" d="M365,130 L420,160 L495,150 L525,108" /><path class="n" d="M420,160 L410,195 M495,150 L480,205" /><ellipse class="n" cx="448" cy="120" rx="44" ry="24" /><ellipse class="t" cx="448" cy="121" rx="27" ry="14" /></g></g><g transform="translate(250.7,97.7)"><g transform="translate(0,-12.05) scale(1,1.08)"><g transform="translate(180,145) scale(0.10152)" ><ellipse cx="368" cy="106" rx="95" ry="40" fill="none" stroke="#3a3a3a" stroke-width="3"/><ellipse cx="368" cy="106" rx="95" ry="40" fill="none" stroke="#fff" stroke-width="1"/><ellipse cx="368" cy="163" rx="95" ry="40" fill="none" stroke="#3a3a3a" stroke-width="3"/><ellipse cx="368" cy="163" rx="95" ry="40" fill="none" stroke="#fff" stroke-width="1"/><ellipse cx="368" cy="220" rx="95" ry="40" fill="none" stroke="#3a3a3a" stroke-width="3"/><ellipse cx="368" cy="220" rx="95" ry="40" fill="none" stroke="#fff" stroke-width="1"/><ellipse cx="368" cy="272" rx="95" ry="40" fill="none" stroke="#3a3a3a" stroke-width="3"/><ellipse cx="368" cy="272" rx="95" ry="40" fill="none" stroke="#fff" stroke-width="1"/></g></g></g><g transform="translate(250.7,149.0)"><g transform="translate(170,185) scale(0.15228)" ><path class="l" d="M150,268 C150,205 228,166 312,166 C396,166 472,205 472,262 L470,545 L395,620 L385,625 L385,700 C385,748 235,748 235,700 L235,612 L205,600 L150,530 Z" /><path class="n" d="M150,268 L195,328 C230,350 300,362 340,362 C400,350 440,310 472,262" /><path class="t" d="M166,262 C175,300 250,340 330,342 C400,335 445,295 458,255" /><path class="n" d="M200,335 L205,600 M335,362 L330,635" /><path class="t" d="M190,330 L190,585 M345,362 L345,630 M455,280 L455,560" /><path class="n" d="M150,530 L205,600 L330,635 L395,620 L470,545" /><path class="n" d="M235,648 C235,690 385,690 385,648" /><path class="n" d="M235,672 C235,712 385,712 385,672" /><path class="k" d="M245,625 C270,648 350,648 378,628" /><ellipse class="n" cx="310" cy="250" rx="80" ry="38" /><ellipse class="t" cx="310" cy="256" rx="62" ry="28" /><path class="l" d="M268,268 L266,170 L262,110 L272,95 L277,58 C279,22 341,22 343,58 L348,95 L358,110 L354,170 L352,268 C340,285 285,285 268,268 Z" /><path class="d" d="M258,170 L360,170 L356,202 L262,202 Z" style="fill:#333;stroke:none"/><path class="h" d="M295,172 L295,200 M318,172 L318,200 M338,172 L338,200" style="stroke:#aaa;stroke-width:.8"/><path class="d" d="M294,118 L324,118 L324,128 L294,128 Z" style="stroke:none"/><path class="n" d="M262,110 C290,122 330,122 358,110 M277,66 C295,78 328,78 343,66 M272,95 C295,106 330,106 348,95 M264,145 C295,158 330,158 356,145" /><path class="t" d="M288,205 L288,275 M334,205 L334,275" /></g></g>
</g>
<line x1="509.5" y1="492.7" x2="684" y2="492.7" stroke="#060606" stroke-width="4.3"/>
<circle cx="509.5" cy="492.7" r="5.1" fill="#060606"/>
<line x1="111.6" y1="233" x2="111.6" y2="278" stroke="#0a0a0a" stroke-width="2.2"/>
<circle cx="111.4" cy="233.3" r="4" fill="#0a0a0a"/>
<path d="M107.2,276.2 L115.8,276.2 L111.6,282.6 Z" fill="#0a0a0a"/>
<line x1="576.6" y1="600" x2="576.6" y2="650" stroke="#0a0a0a" stroke-width="2.2"/>
<circle cx="576.6" cy="651.5" r="4" fill="#0a0a0a"/>
<path d="M572.3,601 L580.9,601 L576.6,594.6 Z" fill="#0a0a0a"/>
</svg>
<div class="pill" style="left:10.5px;top:160.9px"><div class="num">121312</div><div class="nm"><span>Elbow Fitting</span></div></div>
<div class="pill" style="left:479px;top:650.8px"><div class="num">121312</div><div class="nm"><span>Elbow Fitting</span></div></div>
</body></html>
